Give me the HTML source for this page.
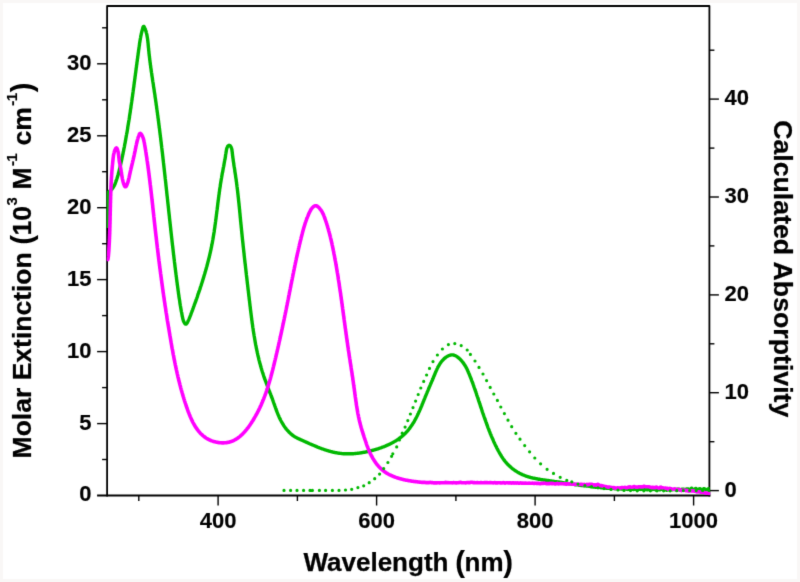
<!DOCTYPE html>
<html lang="en"><head><meta charset="utf-8"><title>Absorption spectra</title>
<style>html,body{margin:0;padding:0;background:#fff}body{width:800px;height:582px;overflow:hidden}svg{display:block}</style>
</head><body>
<svg width="800" height="582" viewBox="0 0 800 582" role="img" aria-label="Absorption spectra">
<defs><filter id="bl" x="0" y="0" width="100%" height="100%" color-interpolation-filters="sRGB"><feConvolveMatrix order="3" kernelMatrix="0.0121 0.0858 0.0121 0.0858 0.6084 0.0858 0.0121 0.0858 0.0121" divisor="1" edgeMode="duplicate" preserveAlpha="false"/></filter></defs>
<rect x="-5" y="-5" width="810" height="592" fill="#f9f7f6"/>
<g filter="url(#bl)">
<rect x="-5" y="-5" width="810" height="592" fill="#f9f7f6"/>
<rect x="3" y="3" width="794" height="576" fill="#ffffff"/>
<g stroke="#000" stroke-width="1.8" fill="none" stroke-linecap="butt" stroke-linejoin="round">
<path d="M107.1,496.40 V6.0 H709.4 V496.40"/>
<path d="M97.1,495.5 H710.30"/>
<path stroke-width="1.4" d="M102.1,459.5 H107.1"/>
<path stroke-width="1.4" d="M97.1,423.6 H107.1"/>
<path stroke-width="1.4" d="M102.1,387.6 H107.1"/>
<path stroke-width="1.4" d="M97.1,351.6 H107.1"/>
<path stroke-width="1.4" d="M102.1,315.6 H107.1"/>
<path stroke-width="1.4" d="M97.1,279.6 H107.1"/>
<path stroke-width="1.4" d="M102.1,243.7 H107.1"/>
<path stroke-width="1.4" d="M97.1,207.7 H107.1"/>
<path stroke-width="1.4" d="M102.1,171.7 H107.1"/>
<path stroke-width="1.4" d="M97.1,135.8 H107.1"/>
<path stroke-width="1.4" d="M102.1,99.8 H107.1"/>
<path stroke-width="1.4" d="M97.1,63.8 H107.1"/>
<path stroke-width="1.4" d="M102.1,27.8 H107.1"/>
<path stroke-width="1.4" d="M709.4,490.6 H718.9"/>
<path stroke-width="1.4" d="M709.4,441.7 H714.4"/>
<path stroke-width="1.4" d="M709.4,392.7 H718.9"/>
<path stroke-width="1.4" d="M709.4,343.8 H714.4"/>
<path stroke-width="1.4" d="M709.4,294.9 H718.9"/>
<path stroke-width="1.4" d="M709.4,245.9 H714.4"/>
<path stroke-width="1.4" d="M709.4,197.0 H718.9"/>
<path stroke-width="1.4" d="M709.4,148.1 H714.4"/>
<path stroke-width="1.4" d="M709.4,99.1 H718.9"/>
<path stroke-width="1.4" d="M709.4,50.2 H714.4"/>
<path stroke-width="1.4" d="M138.8,495.5 V501.0"/>
<path stroke-width="1.4" d="M218.1,495.5 V505.5"/>
<path stroke-width="1.4" d="M297.4,495.5 V501.0"/>
<path stroke-width="1.4" d="M376.6,495.5 V505.5"/>
<path stroke-width="1.4" d="M455.9,495.5 V501.0"/>
<path stroke-width="1.4" d="M535.1,495.5 V505.5"/>
<path stroke-width="1.4" d="M614.4,495.5 V501.0"/>
<path stroke-width="1.4" d="M693.6,495.5 V505.5"/>
</g>
<clipPath id="pc"><rect x="106.7" y="4" width="603.6" height="492.3"/></clipPath>
<g clip-path="url(#pc)">
<path d="M107.2,228.0 L107.3,210.0 L107.5,197.0 L107.8,194.0 L108.4,191.9 L108.9,191.6 L109.4,191.3 L109.9,191.0 L110.4,190.6 L110.9,190.2 L111.3,189.8 L111.7,189.4 L112.1,189.0 L112.5,188.5 L112.9,188.0 L113.2,187.5 L113.5,187.0 L113.8,186.5 L114.1,186.0 L114.4,185.4 L114.6,184.9 L114.9,184.3 L115.1,183.8 L115.3,183.2 L115.5,182.6 L115.7,182.1 L115.9,181.5 L116.1,181.0 L116.3,180.4 L116.5,179.8 L116.7,179.3 L116.9,178.7 L117.1,178.1 L117.3,177.5 L117.4,177.0 L117.6,176.4 L117.8,175.8 L118.0,175.2 L118.1,174.7 L118.3,174.1 L118.4,173.5 L118.6,172.9 L118.7,172.3 L118.9,171.8 L119.0,171.2 L119.2,170.6 L119.3,170.0 L119.5,169.4 L119.6,168.9 L119.8,168.3 L119.9,167.7 L120.0,167.1 L120.2,166.5 L120.3,165.9 L120.5,165.3 L120.6,164.8 L120.7,164.2 L120.8,163.6 L121.0,163.0 L121.1,162.4 L121.2,161.8 L121.4,161.2 L121.5,160.7 L121.6,160.1 L121.7,159.5 L121.9,158.9 L122.0,158.3 L122.1,157.7 L122.2,157.1 L122.4,156.6 L122.5,156.0 L122.6,155.4 L122.7,154.8 L122.9,154.2 L123.0,153.6 L123.1,153.0 L123.2,152.4 L123.3,151.9 L123.5,151.3 L123.6,150.7 L123.7,150.1 L123.8,149.5 L123.9,148.9 L124.0,148.3 L124.2,147.7 L124.3,147.1 L124.4,146.6 L124.5,146.0 L124.6,145.4 L124.7,144.8 L124.8,144.2 L124.9,143.6 L125.1,143.0 L125.2,142.4 L125.3,141.8 L125.4,141.2 L125.5,140.7 L125.6,140.1 L125.7,139.5 L125.8,138.9 L125.9,138.3 L126.0,137.7 L126.1,137.1 L126.2,136.5 L126.3,135.9 L126.4,135.3 L126.5,134.8 L126.6,134.2 L126.7,133.6 L126.9,133.0 L127.0,132.4 L127.1,131.8 L127.2,131.2 L127.3,130.6 L127.4,130.0 L127.5,129.4 L127.6,128.8 L127.7,128.2 L127.7,127.7 L127.8,127.1 L127.9,126.5 L128.0,125.9 L128.1,125.3 L128.2,124.7 L128.3,124.1 L128.4,123.5 L128.5,122.9 L128.6,122.3 L128.7,121.7 L128.8,121.1 L128.9,120.5 L129.0,120.0 L129.1,119.4 L129.2,118.8 L129.3,118.2 L129.4,117.6 L129.5,117.0 L129.5,116.4 L129.6,115.8 L129.7,115.2 L129.8,114.6 L129.9,114.0 L130.0,113.4 L130.1,112.8 L130.2,112.2 L130.3,111.6 L130.3,111.1 L130.4,110.5 L130.5,109.9 L130.6,109.3 L130.7,108.7 L130.8,108.1 L130.9,107.5 L131.0,106.9 L131.0,106.3 L131.1,105.7 L131.2,105.1 L131.3,104.5 L131.4,103.9 L131.5,103.3 L131.6,102.7 L131.6,102.1 L131.7,101.6 L131.8,101.0 L131.9,100.4 L132.0,99.8 L132.1,99.2 L132.1,98.6 L132.2,98.0 L132.3,97.4 L132.4,96.8 L132.5,96.2 L132.6,95.6 L132.6,95.0 L132.7,94.4 L132.8,93.8 L132.9,93.2 L133.0,92.6 L133.0,92.0 L133.1,91.5 L133.2,90.9 L133.3,90.3 L133.4,89.7 L133.4,89.1 L133.5,88.5 L133.6,87.9 L133.7,87.3 L133.8,86.7 L133.9,86.1 L133.9,85.5 L134.0,84.9 L134.1,84.3 L134.2,83.7 L134.2,83.1 L134.3,82.5 L134.4,81.9 L134.5,81.3 L134.6,80.7 L134.6,80.2 L134.7,79.6 L134.8,79.0 L134.9,78.4 L135.0,77.8 L135.0,77.2 L135.1,76.6 L135.2,76.0 L135.3,75.4 L135.4,74.8 L135.4,74.2 L135.5,73.6 L135.6,73.0 L135.7,72.4 L135.8,71.8 L135.8,71.2 L135.9,70.6 L136.0,70.0 L136.1,69.4 L136.1,68.9 L136.2,68.3 L136.3,67.7 L136.4,67.1 L136.5,66.5 L136.5,65.9 L136.6,65.3 L136.7,64.7 L136.8,64.1 L136.9,63.5 L136.9,62.9 L137.0,62.3 L137.1,61.7 L137.2,61.1 L137.3,60.5 L137.3,59.9 L137.4,59.3 L137.5,58.7 L137.6,58.1 L137.7,57.6 L137.7,57.0 L137.8,56.4 L137.9,55.8 L138.0,55.2 L138.1,54.6 L138.1,54.0 L138.2,53.4 L138.3,52.8 L138.4,52.2 L138.5,51.6 L138.5,51.0 L138.6,50.4 L138.7,49.8 L138.8,49.2 L138.9,48.6 L139.0,48.0 L139.0,47.4 L139.1,46.9 L139.2,46.3 L139.3,45.7 L139.4,45.1 L139.5,44.5 L139.5,43.9 L139.6,43.3 L139.7,42.7 L139.8,42.1 L139.9,41.5 L140.0,40.9 L140.1,40.3 L140.2,39.7 L140.3,39.1 L140.4,38.5 L140.5,38.0 L140.6,37.4 L140.7,36.8 L140.8,36.2 L140.9,35.6 L141.1,35.0 L141.2,34.4 L141.3,33.8 L141.4,33.3 L141.6,32.7 L141.7,32.1 L141.9,31.5 L142.0,30.9 L142.2,30.3 L142.3,29.8 L142.5,29.2 L142.6,28.6 L142.8,28.0 L143.0,27.5 L143.2,26.9 L143.5,26.4 L144.0,26.5 L144.3,27.0 L144.6,27.5 L144.8,28.1 L145.0,28.6 L145.2,29.2 L145.4,29.7 L145.6,30.3 L145.8,30.9 L146.0,31.5 L146.2,32.0 L146.3,32.6 L146.5,33.2 L146.6,33.8 L146.8,34.4 L146.9,34.9 L147.0,35.5 L147.1,36.1 L147.2,36.7 L147.3,37.3 L147.4,37.9 L147.5,38.5 L147.6,39.1 L147.7,39.7 L147.7,40.3 L147.8,40.9 L147.9,41.5 L147.9,42.1 L148.0,42.7 L148.1,43.3 L148.1,43.9 L148.2,44.5 L148.2,45.1 L148.3,45.7 L148.3,46.2 L148.4,46.8 L148.4,47.4 L148.5,48.0 L148.6,48.6 L148.6,49.2 L148.7,49.8 L148.7,50.4 L148.8,51.0 L148.9,51.6 L148.9,52.2 L149.0,52.8 L149.0,53.4 L149.1,54.0 L149.2,54.6 L149.2,55.2 L149.3,55.8 L149.4,56.4 L149.5,57.0 L149.5,57.6 L149.6,58.2 L149.7,58.8 L149.7,59.4 L149.8,60.0 L149.9,60.6 L150.0,61.2 L150.0,61.8 L150.1,62.3 L150.2,62.9 L150.3,63.5 L150.3,64.1 L150.4,64.7 L150.5,65.3 L150.6,65.9 L150.7,66.5 L150.7,67.1 L150.8,67.7 L150.9,68.3 L151.0,68.9 L151.1,69.5 L151.2,70.1 L151.2,70.7 L151.3,71.3 L151.4,71.9 L151.5,72.5 L151.6,73.0 L151.7,73.6 L151.8,74.2 L151.8,74.8 L151.9,75.4 L152.0,76.0 L152.1,76.6 L152.2,77.2 L152.3,77.8 L152.4,78.4 L152.5,79.0 L152.5,79.6 L152.6,80.2 L152.7,80.8 L152.8,81.4 L152.9,82.0 L153.0,82.5 L153.1,83.1 L153.2,83.7 L153.3,84.3 L153.4,84.9 L153.4,85.5 L153.5,86.1 L153.6,86.7 L153.7,87.3 L153.8,87.9 L153.9,88.5 L154.0,89.1 L154.1,89.7 L154.2,90.3 L154.2,90.8 L154.3,91.4 L154.4,92.0 L154.5,92.6 L154.6,93.2 L154.7,93.8 L154.8,94.4 L154.9,95.0 L155.0,95.6 L155.0,96.2 L155.1,96.8 L155.2,97.4 L155.3,98.0 L155.4,98.6 L155.5,99.2 L155.6,99.8 L155.6,100.3 L155.7,100.9 L155.8,101.5 L155.9,102.1 L156.0,102.7 L156.1,103.3 L156.1,103.9 L156.2,104.5 L156.3,105.1 L156.4,105.7 L156.5,106.3 L156.6,106.9 L156.6,107.5 L156.7,108.1 L156.8,108.7 L156.9,109.3 L157.0,109.9 L157.1,110.4 L157.1,111.0 L157.2,111.6 L157.3,112.2 L157.4,112.8 L157.5,113.4 L157.5,114.0 L157.6,114.6 L157.7,115.2 L157.8,115.8 L157.9,116.4 L157.9,117.0 L158.0,117.6 L158.1,118.2 L158.2,118.8 L158.3,119.4 L158.3,120.0 L158.4,120.6 L158.5,121.2 L158.6,121.7 L158.6,122.3 L158.7,122.9 L158.8,123.5 L158.9,124.1 L158.9,124.7 L159.0,125.3 L159.1,125.9 L159.2,126.5 L159.2,127.1 L159.3,127.7 L159.4,128.3 L159.5,128.9 L159.6,129.5 L159.6,130.1 L159.7,130.7 L159.8,131.3 L159.8,131.9 L159.9,132.5 L160.0,133.1 L160.1,133.7 L160.1,134.2 L160.2,134.8 L160.3,135.4 L160.4,136.0 L160.4,136.6 L160.5,137.2 L160.6,137.8 L160.7,138.4 L160.7,139.0 L160.8,139.6 L160.9,140.2 L160.9,140.8 L161.0,141.4 L161.1,142.0 L161.2,142.6 L161.2,143.2 L161.3,143.8 L161.4,144.4 L161.4,145.0 L161.5,145.6 L161.6,146.2 L161.7,146.8 L161.7,147.4 L161.8,148.0 L161.9,148.5 L161.9,149.1 L162.0,149.7 L162.1,150.3 L162.1,150.9 L162.2,151.5 L162.3,152.1 L162.4,152.7 L162.4,153.3 L162.5,153.9 L162.6,154.5 L162.6,155.1 L162.7,155.7 L162.8,156.3 L162.8,156.9 L162.9,157.5 L163.0,158.1 L163.0,158.7 L163.1,159.3 L163.2,159.9 L163.2,160.5 L163.3,161.1 L163.4,161.7 L163.4,162.3 L163.5,162.9 L163.6,163.4 L163.6,164.0 L163.7,164.6 L163.8,165.2 L163.8,165.8 L163.9,166.4 L164.0,167.0 L164.0,167.6 L164.1,168.2 L164.2,168.8 L164.2,169.4 L164.3,170.0 L164.4,170.6 L164.4,171.2 L164.5,171.8 L164.6,172.4 L164.6,173.0 L164.7,173.6 L164.8,174.2 L164.8,174.8 L164.9,175.4 L165.0,176.0 L165.0,176.6 L165.1,177.2 L165.2,177.8 L165.2,178.4 L165.3,179.0 L165.4,179.5 L165.4,180.1 L165.5,180.7 L165.6,181.3 L165.6,181.9 L165.7,182.5 L165.8,183.1 L165.8,183.7 L165.9,184.3 L165.9,184.9 L166.0,185.5 L166.1,186.1 L166.1,186.7 L166.2,187.3 L166.3,187.9 L166.3,188.5 L166.4,189.1 L166.5,189.7 L166.5,190.3 L166.6,190.9 L166.7,191.5 L166.7,192.1 L166.8,192.7 L166.8,193.3 L166.9,193.9 L167.0,194.5 L167.0,195.1 L167.1,195.7 L167.2,196.3 L167.2,196.8 L167.3,197.4 L167.4,198.0 L167.4,198.6 L167.5,199.2 L167.6,199.8 L167.6,200.4 L167.7,201.0 L167.7,201.6 L167.8,202.2 L167.9,202.8 L167.9,203.4 L168.0,204.0 L168.1,204.6 L168.1,205.2 L168.2,205.8 L168.3,206.4 L168.3,207.0 L168.4,207.6 L168.5,208.2 L168.5,208.8 L168.6,209.4 L168.6,210.0 L168.7,210.6 L168.8,211.2 L168.8,211.8 L168.9,212.4 L169.0,213.0 L169.0,213.6 L169.1,214.1 L169.2,214.7 L169.2,215.3 L169.3,215.9 L169.4,216.5 L169.4,217.1 L169.5,217.7 L169.5,218.3 L169.6,218.9 L169.7,219.5 L169.7,220.1 L169.8,220.7 L169.9,221.3 L169.9,221.9 L170.0,222.5 L170.1,223.1 L170.1,223.7 L170.2,224.3 L170.3,224.9 L170.3,225.5 L170.4,226.1 L170.5,226.7 L170.5,227.3 L170.6,227.9 L170.7,228.5 L170.7,229.1 L170.8,229.7 L170.8,230.3 L170.9,230.8 L171.0,231.4 L171.0,232.0 L171.1,232.6 L171.2,233.2 L171.2,233.8 L171.3,234.4 L171.4,235.0 L171.4,235.6 L171.5,236.2 L171.6,236.8 L171.6,237.4 L171.7,238.0 L171.8,238.6 L171.8,239.2 L171.9,239.8 L172.0,240.4 L172.0,241.0 L172.1,241.6 L172.2,242.2 L172.2,242.8 L172.3,243.4 L172.4,244.0 L172.4,244.6 L172.5,245.2 L172.6,245.8 L172.7,246.4 L172.7,246.9 L172.8,247.5 L172.9,248.1 L172.9,248.7 L173.0,249.3 L173.1,249.9 L173.1,250.5 L173.2,251.1 L173.3,251.7 L173.3,252.3 L173.4,252.9 L173.5,253.5 L173.5,254.1 L173.6,254.7 L173.7,255.3 L173.8,255.9 L173.8,256.5 L173.9,257.1 L174.0,257.7 L174.0,258.3 L174.1,258.9 L174.2,259.5 L174.3,260.1 L174.3,260.7 L174.4,261.3 L174.5,261.8 L174.5,262.4 L174.6,263.0 L174.7,263.6 L174.8,264.2 L174.8,264.8 L174.9,265.4 L175.0,266.0 L175.0,266.6 L175.1,267.2 L175.2,267.8 L175.3,268.4 L175.3,269.0 L175.4,269.6 L175.5,270.2 L175.6,270.8 L175.6,271.4 L175.7,272.0 L175.8,272.6 L175.9,273.2 L175.9,273.8 L176.0,274.4 L176.1,274.9 L176.2,275.5 L176.2,276.1 L176.3,276.7 L176.4,277.3 L176.5,277.9 L176.5,278.5 L176.6,279.1 L176.7,279.7 L176.8,280.3 L176.8,280.9 L176.9,281.5 L177.0,282.1 L177.1,282.7 L177.2,283.3 L177.2,283.9 L177.3,284.5 L177.4,285.1 L177.5,285.7 L177.6,286.3 L177.6,286.8 L177.7,287.4 L177.8,288.0 L177.9,288.6 L178.0,289.2 L178.0,289.8 L178.1,290.4 L178.2,291.0 L178.3,291.6 L178.4,292.2 L178.4,292.8 L178.5,293.4 L178.6,294.0 L178.7,294.6 L178.8,295.2 L178.9,295.8 L178.9,296.4 L179.0,296.9 L179.1,297.5 L179.2,298.1 L179.3,298.7 L179.4,299.3 L179.5,299.9 L179.6,300.5 L179.7,301.1 L179.8,301.7 L179.8,302.3 L179.9,302.9 L180.0,303.5 L180.1,304.1 L180.2,304.7 L180.3,305.3 L180.4,305.8 L180.5,306.4 L180.6,307.0 L180.7,307.6 L180.8,308.2 L180.9,308.8 L181.0,309.4 L181.1,310.0 L181.2,310.6 L181.3,311.2 L181.4,311.8 L181.6,312.3 L181.7,312.9 L181.8,313.5 L181.9,314.1 L182.0,314.7 L182.1,315.3 L182.2,315.9 L182.3,316.5 L182.5,317.1 L182.6,317.6 L182.7,318.2 L182.8,318.8 L183.0,319.4 L183.2,320.0 L183.3,320.5 L183.5,321.1 L183.8,321.7 L184.0,322.2 L184.3,322.7 L184.6,323.2 L185.0,323.7 L185.5,324.1 L186.1,324.1 L186.5,323.8 L186.9,323.3 L187.2,322.8 L187.5,322.3 L187.8,321.7 L188.0,321.2 L188.3,320.7 L188.5,320.1 L188.8,319.6 L189.0,319.0 L189.3,318.5 L189.5,317.9 L189.7,317.4 L189.9,316.8 L190.2,316.2 L190.4,315.7 L190.6,315.1 L190.8,314.6 L191.0,314.0 L191.2,313.4 L191.4,312.9 L191.6,312.3 L191.9,311.7 L192.1,311.2 L192.3,310.6 L192.5,310.1 L192.7,309.5 L192.9,308.9 L193.1,308.4 L193.3,307.8 L193.5,307.2 L193.7,306.7 L193.9,306.1 L194.1,305.6 L194.3,305.0 L194.5,304.4 L194.7,303.9 L195.0,303.3 L195.2,302.7 L195.4,302.2 L195.6,301.6 L195.8,301.0 L196.0,300.5 L196.2,299.9 L196.4,299.3 L196.6,298.8 L196.8,298.2 L197.0,297.6 L197.2,297.1 L197.4,296.5 L197.6,295.9 L197.7,295.4 L197.9,294.8 L198.1,294.2 L198.3,293.7 L198.5,293.1 L198.7,292.5 L198.9,292.0 L199.1,291.4 L199.3,290.8 L199.5,290.3 L199.7,289.7 L199.9,289.1 L200.1,288.6 L200.2,288.0 L200.4,287.4 L200.6,286.8 L200.8,286.3 L201.0,285.7 L201.2,285.1 L201.4,284.6 L201.5,284.0 L201.7,283.4 L201.9,282.9 L202.1,282.3 L202.3,281.7 L202.5,281.1 L202.6,280.6 L202.8,280.0 L203.0,279.4 L203.2,278.8 L203.3,278.3 L203.5,277.7 L203.7,277.1 L203.9,276.5 L204.0,276.0 L204.2,275.4 L204.4,274.8 L204.6,274.2 L204.7,273.7 L204.9,273.1 L205.1,272.5 L205.2,271.9 L205.4,271.4 L205.6,270.8 L205.7,270.2 L205.9,269.6 L206.1,269.1 L206.2,268.5 L206.4,267.9 L206.5,267.3 L206.7,266.8 L206.9,266.2 L207.0,265.6 L207.2,265.0 L207.3,264.4 L207.5,263.9 L207.6,263.3 L207.8,262.7 L207.9,262.1 L208.1,261.5 L208.2,261.0 L208.4,260.4 L208.5,259.8 L208.7,259.2 L208.8,258.6 L209.0,258.0 L209.1,257.5 L209.3,256.9 L209.4,256.3 L209.5,255.7 L209.7,255.1 L209.8,254.5 L209.9,254.0 L210.1,253.4 L210.2,252.8 L210.3,252.2 L210.5,251.6 L210.6,251.0 L210.7,250.4 L210.9,249.9 L211.0,249.3 L211.1,248.7 L211.2,248.1 L211.3,247.5 L211.5,246.9 L211.6,246.3 L211.7,245.7 L211.8,245.2 L211.9,244.6 L212.0,244.0 L212.2,243.4 L212.3,242.8 L212.4,242.2 L212.5,241.6 L212.6,241.0 L212.7,240.4 L212.8,239.8 L212.9,239.3 L213.0,238.7 L213.1,238.1 L213.2,237.5 L213.3,236.9 L213.4,236.3 L213.5,235.7 L213.6,235.1 L213.7,234.5 L213.8,233.9 L213.9,233.3 L214.0,232.7 L214.1,232.1 L214.2,231.6 L214.3,231.0 L214.3,230.4 L214.4,229.8 L214.5,229.2 L214.6,228.6 L214.7,228.0 L214.8,227.4 L214.9,226.8 L214.9,226.2 L215.0,225.6 L215.1,225.0 L215.2,224.4 L215.3,223.8 L215.4,223.2 L215.4,222.6 L215.5,222.0 L215.6,221.5 L215.7,220.9 L215.7,220.3 L215.8,219.7 L215.9,219.1 L216.0,218.5 L216.1,217.9 L216.1,217.3 L216.2,216.7 L216.3,216.1 L216.4,215.5 L216.4,214.9 L216.5,214.3 L216.6,213.7 L216.7,213.1 L216.7,212.5 L216.8,211.9 L216.9,211.3 L217.0,210.7 L217.0,210.1 L217.1,209.6 L217.2,209.0 L217.3,208.4 L217.3,207.8 L217.4,207.2 L217.5,206.6 L217.6,206.0 L217.6,205.4 L217.7,204.8 L217.8,204.2 L217.8,203.6 L217.9,203.0 L218.0,202.4 L218.1,201.8 L218.1,201.2 L218.2,200.6 L218.3,200.0 L218.4,199.4 L218.5,198.8 L218.5,198.2 L218.6,197.6 L218.7,197.0 L218.8,196.5 L218.8,195.9 L218.9,195.3 L219.0,194.7 L219.1,194.1 L219.2,193.5 L219.2,192.9 L219.3,192.3 L219.4,191.7 L219.5,191.1 L219.6,190.5 L219.6,189.9 L219.7,189.3 L219.8,188.7 L219.9,188.1 L220.0,187.5 L220.1,186.9 L220.2,186.4 L220.3,185.8 L220.3,185.2 L220.4,184.6 L220.5,184.0 L220.6,183.4 L220.7,182.8 L220.8,182.2 L220.9,181.6 L221.0,181.0 L221.1,180.4 L221.2,179.8 L221.3,179.2 L221.4,178.6 L221.5,178.1 L221.6,177.5 L221.7,176.9 L221.8,176.3 L221.9,175.7 L222.0,175.1 L222.1,174.5 L222.2,173.9 L222.3,173.3 L222.4,172.7 L222.6,172.2 L222.7,171.6 L222.8,171.0 L222.9,170.4 L223.0,169.8 L223.1,169.2 L223.2,168.6 L223.3,168.0 L223.4,167.4 L223.6,166.8 L223.7,166.3 L223.8,165.7 L223.9,165.1 L224.0,164.5 L224.1,163.9 L224.2,163.3 L224.3,162.7 L224.4,162.1 L224.5,161.5 L224.6,160.9 L224.7,160.4 L224.8,159.8 L225.0,159.2 L225.1,158.6 L225.2,158.0 L225.3,157.4 L225.4,156.8 L225.5,156.2 L225.5,155.6 L225.6,155.0 L225.7,154.4 L225.8,153.8 L225.9,153.3 L226.0,152.7 L226.1,152.1 L226.2,151.5 L226.3,150.9 L226.4,150.3 L226.5,149.7 L226.6,149.1 L226.8,148.5 L226.9,148.0 L227.2,147.4 L227.4,146.9 L227.7,146.3 L228.1,145.9 L228.6,145.5 L229.1,145.3 L229.7,145.5 L230.2,145.8 L230.6,146.3 L230.9,146.8 L231.2,147.3 L231.4,147.9 L231.6,148.4 L231.7,149.0 L231.9,149.6 L232.0,150.2 L232.0,150.8 L232.1,151.4 L232.2,152.0 L232.3,152.6 L232.3,153.2 L232.4,153.8 L232.5,154.4 L232.5,155.0 L232.6,155.6 L232.7,156.2 L232.8,156.8 L232.8,157.4 L232.9,157.9 L233.0,158.5 L233.1,159.1 L233.2,159.7 L233.2,160.3 L233.3,160.9 L233.4,161.5 L233.5,162.1 L233.6,162.7 L233.7,163.3 L233.8,163.9 L233.8,164.5 L233.9,165.1 L234.0,165.7 L234.1,166.3 L234.2,166.9 L234.3,167.4 L234.4,168.0 L234.5,168.6 L234.6,169.2 L234.7,169.8 L234.8,170.4 L234.8,171.0 L234.9,171.6 L235.0,172.2 L235.1,172.8 L235.2,173.4 L235.3,174.0 L235.4,174.6 L235.5,175.2 L235.6,175.8 L235.6,176.3 L235.7,176.9 L235.8,177.5 L235.9,178.1 L236.0,178.7 L236.1,179.3 L236.2,179.9 L236.2,180.5 L236.3,181.1 L236.4,181.7 L236.5,182.3 L236.6,182.9 L236.6,183.5 L236.7,184.1 L236.8,184.7 L236.9,185.3 L236.9,185.9 L237.0,186.5 L237.1,187.0 L237.2,187.6 L237.2,188.2 L237.3,188.8 L237.4,189.4 L237.5,190.0 L237.5,190.6 L237.6,191.2 L237.7,191.8 L237.7,192.4 L237.8,193.0 L237.9,193.6 L237.9,194.2 L238.0,194.8 L238.1,195.4 L238.1,196.0 L238.2,196.6 L238.3,197.2 L238.3,197.8 L238.4,198.4 L238.5,199.0 L238.5,199.6 L238.6,200.2 L238.6,200.8 L238.7,201.4 L238.8,202.0 L238.8,202.6 L238.9,203.1 L239.0,203.7 L239.0,204.3 L239.1,204.9 L239.1,205.5 L239.2,206.1 L239.3,206.7 L239.3,207.3 L239.4,207.9 L239.4,208.5 L239.5,209.1 L239.6,209.7 L239.6,210.3 L239.7,210.9 L239.7,211.5 L239.8,212.1 L239.8,212.7 L239.9,213.3 L240.0,213.9 L240.0,214.5 L240.1,215.1 L240.1,215.7 L240.2,216.3 L240.2,216.9 L240.3,217.5 L240.4,218.1 L240.4,218.7 L240.5,219.3 L240.5,219.9 L240.6,220.5 L240.6,221.1 L240.7,221.7 L240.8,222.3 L240.8,222.9 L240.9,223.4 L240.9,224.0 L241.0,224.6 L241.1,225.2 L241.1,225.8 L241.2,226.4 L241.2,227.0 L241.3,227.6 L241.4,228.2 L241.4,228.8 L241.5,229.4 L241.5,230.0 L241.6,230.6 L241.7,231.2 L241.7,231.8 L241.8,232.4 L241.8,233.0 L241.9,233.6 L242.0,234.2 L242.0,234.8 L242.1,235.4 L242.1,236.0 L242.2,236.6 L242.3,237.2 L242.3,237.8 L242.4,238.4 L242.4,239.0 L242.5,239.6 L242.6,240.2 L242.6,240.8 L242.7,241.4 L242.8,242.0 L242.8,242.6 L242.9,243.1 L243.0,243.7 L243.0,244.3 L243.1,244.9 L243.1,245.5 L243.2,246.1 L243.3,246.7 L243.3,247.3 L243.4,247.9 L243.5,248.5 L243.5,249.1 L243.6,249.7 L243.7,250.3 L243.7,250.9 L243.8,251.5 L243.9,252.1 L243.9,252.7 L244.0,253.3 L244.1,253.9 L244.1,254.5 L244.2,255.1 L244.2,255.7 L244.3,256.3 L244.4,256.9 L244.4,257.5 L244.5,258.1 L244.6,258.7 L244.6,259.3 L244.7,259.8 L244.8,260.4 L244.8,261.0 L244.9,261.6 L245.0,262.2 L245.0,262.8 L245.1,263.4 L245.2,264.0 L245.3,264.6 L245.3,265.2 L245.4,265.8 L245.5,266.4 L245.5,267.0 L245.6,267.6 L245.7,268.2 L245.7,268.8 L245.8,269.4 L245.9,270.0 L245.9,270.6 L246.0,271.2 L246.1,271.8 L246.1,272.4 L246.2,273.0 L246.3,273.6 L246.3,274.2 L246.4,274.8 L246.5,275.3 L246.5,275.9 L246.6,276.5 L246.7,277.1 L246.8,277.7 L246.8,278.3 L246.9,278.9 L247.0,279.5 L247.0,280.1 L247.1,280.7 L247.2,281.3 L247.2,281.9 L247.3,282.5 L247.4,283.1 L247.4,283.7 L247.5,284.3 L247.6,284.9 L247.7,285.5 L247.7,286.1 L247.8,286.7 L247.9,287.3 L247.9,287.9 L248.0,288.5 L248.1,289.1 L248.1,289.7 L248.2,290.2 L248.3,290.8 L248.4,291.4 L248.4,292.0 L248.5,292.6 L248.6,293.2 L248.6,293.8 L248.7,294.4 L248.8,295.0 L248.8,295.6 L248.9,296.2 L249.0,296.8 L249.1,297.4 L249.1,298.0 L249.2,298.6 L249.3,299.2 L249.3,299.8 L249.4,300.4 L249.5,301.0 L249.6,301.6 L249.6,302.2 L249.7,302.8 L249.8,303.4 L249.8,304.0 L249.9,304.5 L250.0,305.1 L250.0,305.7 L250.1,306.3 L250.2,306.9 L250.3,307.5 L250.3,308.1 L250.4,308.7 L250.5,309.3 L250.5,309.9 L250.6,310.5 L250.7,311.1 L250.8,311.7 L250.8,312.3 L250.9,312.9 L251.0,313.5 L251.1,314.1 L251.1,314.7 L251.2,315.3 L251.3,315.9 L251.4,316.5 L251.4,317.1 L251.5,317.6 L251.6,318.2 L251.7,318.8 L251.7,319.4 L251.8,320.0 L251.9,320.6 L252.0,321.2 L252.1,321.8 L252.1,322.4 L252.2,323.0 L252.3,323.6 L252.4,324.2 L252.5,324.8 L252.6,325.4 L252.6,326.0 L252.7,326.6 L252.8,327.2 L252.9,327.8 L253.0,328.3 L253.1,328.9 L253.2,329.5 L253.2,330.1 L253.3,330.7 L253.4,331.3 L253.5,331.9 L253.6,332.5 L253.7,333.1 L253.8,333.7 L253.9,334.3 L254.0,334.9 L254.1,335.5 L254.2,336.1 L254.3,336.6 L254.4,337.2 L254.5,337.8 L254.6,338.4 L254.7,339.0 L254.8,339.6 L254.9,340.2 L255.0,340.8 L255.1,341.4 L255.2,342.0 L255.3,342.6 L255.4,343.2 L255.5,343.7 L255.6,344.3 L255.7,344.9 L255.9,345.5 L256.0,346.1 L256.1,346.7 L256.2,347.3 L256.3,347.9 L256.4,348.5 L256.6,349.0 L256.7,349.6 L256.8,350.2 L256.9,350.8 L257.1,351.4 L257.2,352.0 L257.3,352.6 L257.4,353.1 L257.6,353.7 L257.7,354.3 L257.8,354.9 L258.0,355.5 L258.1,356.1 L258.2,356.7 L258.4,357.2 L258.5,357.8 L258.7,358.4 L258.8,359.0 L258.9,359.6 L259.1,360.2 L259.2,360.7 L259.4,361.3 L259.5,361.9 L259.7,362.5 L259.8,363.1 L260.0,363.6 L260.2,364.2 L260.3,364.8 L260.5,365.4 L260.6,366.0 L260.8,366.5 L261.0,367.1 L261.1,367.7 L261.3,368.3 L261.5,368.8 L261.6,369.4 L261.8,370.0 L262.0,370.6 L262.2,371.1 L262.3,371.7 L262.5,372.3 L262.7,372.8 L262.9,373.4 L263.1,374.0 L263.3,374.6 L263.5,375.1 L263.6,375.7 L263.8,376.3 L264.0,376.8 L264.2,377.4 L264.4,378.0 L264.6,378.5 L264.8,379.1 L265.0,379.7 L265.2,380.2 L265.4,380.8 L265.7,381.4 L265.9,381.9 L266.1,382.5 L266.3,383.0 L266.5,383.6 L266.7,384.2 L266.9,384.7 L267.1,385.3 L267.3,385.8 L267.6,386.4 L267.8,387.0 L268.0,387.5 L268.2,388.1 L268.4,388.6 L268.6,389.2 L268.8,389.8 L269.1,390.3 L269.3,390.9 L269.5,391.4 L269.7,392.0 L269.9,392.6 L270.1,393.1 L270.4,393.7 L270.6,394.2 L270.8,394.8 L271.0,395.4 L271.2,395.9 L271.4,396.5 L271.6,397.0 L271.8,397.6 L272.1,398.2 L272.3,398.7 L272.5,399.3 L272.7,399.9 L272.9,400.4 L273.1,401.0 L273.3,401.6 L273.5,402.1 L273.7,402.7 L273.9,403.3 L274.1,403.8 L274.3,404.4 L274.5,405.0 L274.7,405.5 L274.9,406.1 L275.1,406.6 L275.3,407.2 L275.5,407.8 L275.7,408.3 L275.9,408.9 L276.1,409.5 L276.3,410.0 L276.5,410.6 L276.7,411.2 L276.9,411.7 L277.2,412.3 L277.4,412.8 L277.6,413.4 L277.8,413.9 L278.1,414.5 L278.3,415.1 L278.5,415.6 L278.8,416.2 L279.0,416.7 L279.2,417.3 L279.5,417.8 L279.7,418.3 L280.0,418.9 L280.3,419.4 L280.5,420.0 L280.8,420.5 L281.1,421.0 L281.4,421.6 L281.7,422.1 L282.0,422.6 L282.3,423.1 L282.6,423.6 L282.9,424.2 L283.2,424.7 L283.5,425.2 L283.8,425.7 L284.2,426.2 L284.5,426.7 L284.9,427.2 L285.2,427.6 L285.6,428.1 L285.9,428.6 L286.3,429.1 L286.7,429.5 L287.1,430.0 L287.5,430.5 L287.9,430.9 L288.3,431.3 L288.7,431.8 L289.1,432.2 L289.5,432.6 L290.0,433.0 L290.4,433.4 L290.8,433.8 L291.3,434.2 L291.8,434.6 L292.2,435.0 L292.7,435.3 L293.2,435.7 L293.7,436.0 L294.2,436.4 L294.7,436.7 L295.2,437.0 L295.8,437.3 L296.3,437.6 L296.8,437.9 L297.3,438.1 L297.9,438.4 L298.4,438.7 L299.0,438.9 L299.5,439.2 L300.1,439.4 L300.6,439.7 L301.1,439.9 L301.7,440.1 L302.2,440.4 L302.8,440.6 L303.3,440.9 L303.9,441.1 L304.4,441.4 L305.0,441.6 L305.5,441.9 L306.1,442.1 L306.6,442.3 L307.2,442.6 L307.7,442.8 L308.3,443.1 L308.8,443.3 L309.4,443.6 L309.9,443.8 L310.5,444.0 L311.0,444.3 L311.6,444.5 L312.1,444.8 L312.7,445.0 L313.2,445.2 L313.8,445.5 L314.3,445.7 L314.9,445.9 L315.4,446.2 L316.0,446.4 L316.5,446.6 L317.1,446.9 L317.6,447.1 L318.2,447.3 L318.8,447.5 L319.3,447.8 L319.9,448.0 L320.4,448.2 L321.0,448.4 L321.6,448.6 L322.1,448.8 L322.7,449.0 L323.3,449.2 L323.8,449.4 L324.4,449.6 L325.0,449.8 L325.5,450.0 L326.1,450.2 L326.7,450.4 L327.2,450.5 L327.8,450.7 L328.4,450.9 L329.0,451.1 L329.5,451.2 L330.1,451.4 L330.7,451.5 L331.3,451.7 L331.9,451.8 L332.4,452.0 L333.0,452.1 L333.6,452.2 L334.2,452.4 L334.8,452.5 L335.4,452.6 L336.0,452.7 L336.6,452.8 L337.1,452.9 L337.7,453.0 L338.3,453.1 L338.9,453.2 L339.5,453.3 L340.1,453.4 L340.7,453.4 L341.3,453.5 L341.9,453.6 L342.5,453.6 L343.1,453.7 L343.7,453.7 L344.3,453.7 L344.9,453.8 L345.5,453.8 L346.1,453.8 L346.7,453.8 L347.3,453.8 L347.9,453.8 L348.5,453.8 L349.1,453.8 L349.7,453.8 L350.3,453.8 L350.9,453.8 L351.5,453.8 L352.1,453.7 L352.7,453.7 L353.3,453.7 L353.9,453.6 L354.5,453.6 L355.1,453.5 L355.7,453.5 L356.3,453.4 L356.9,453.4 L357.5,453.3 L358.1,453.2 L358.7,453.1 L359.3,453.1 L359.9,453.0 L360.5,452.9 L361.0,452.8 L361.6,452.7 L362.2,452.6 L362.8,452.5 L363.4,452.4 L364.0,452.3 L364.6,452.2 L365.2,452.1 L365.8,452.0 L366.4,451.8 L366.9,451.7 L367.5,451.6 L368.1,451.4 L368.7,451.3 L369.3,451.2 L369.9,451.0 L370.5,450.9 L371.0,450.7 L371.6,450.6 L372.2,450.4 L372.8,450.3 L373.4,450.1 L373.9,450.0 L374.5,449.8 L375.1,449.6 L375.7,449.5 L376.2,449.3 L376.8,449.1 L377.4,449.0 L378.0,448.8 L378.5,448.6 L379.1,448.4 L379.7,448.2 L380.2,448.0 L380.8,447.8 L381.4,447.6 L381.9,447.4 L382.5,447.2 L383.1,447.0 L383.6,446.8 L384.2,446.6 L384.7,446.3 L385.3,446.1 L385.8,445.9 L386.4,445.6 L386.9,445.4 L387.5,445.2 L388.0,444.9 L388.6,444.7 L389.1,444.4 L389.7,444.2 L390.2,443.9 L390.7,443.6 L391.3,443.4 L391.8,443.1 L392.3,442.8 L392.9,442.5 L393.4,442.2 L393.9,441.9 L394.4,441.6 L394.9,441.3 L395.5,441.0 L396.0,440.7 L396.5,440.4 L397.0,440.0 L397.5,439.7 L398.0,439.4 L398.5,439.0 L399.0,438.7 L399.4,438.3 L399.9,438.0 L400.4,437.6 L400.9,437.2 L401.4,436.9 L401.8,436.5 L402.3,436.1 L402.7,435.7 L403.2,435.3 L403.6,434.9 L404.1,434.5 L404.5,434.1 L404.9,433.7 L405.4,433.3 L405.8,432.8 L406.2,432.4 L406.6,432.0 L407.0,431.5 L407.4,431.1 L407.8,430.6 L408.2,430.2 L408.6,429.7 L408.9,429.2 L409.3,428.7 L409.7,428.3 L410.0,427.8 L410.4,427.3 L410.7,426.8 L411.1,426.3 L411.4,425.8 L411.8,425.3 L412.1,424.8 L412.4,424.3 L412.7,423.8 L413.1,423.3 L413.4,422.8 L413.7,422.3 L414.0,421.8 L414.3,421.3 L414.6,420.7 L414.9,420.2 L415.2,419.7 L415.5,419.2 L415.7,418.6 L416.0,418.1 L416.3,417.6 L416.6,417.0 L416.8,416.5 L417.1,416.0 L417.4,415.4 L417.6,414.9 L417.9,414.3 L418.1,413.8 L418.4,413.3 L418.6,412.7 L418.9,412.2 L419.1,411.6 L419.4,411.1 L419.6,410.5 L419.9,410.0 L420.1,409.4 L420.4,408.9 L420.6,408.3 L420.8,407.8 L421.1,407.2 L421.3,406.7 L421.5,406.1 L421.8,405.6 L422.0,405.0 L422.2,404.4 L422.4,403.9 L422.7,403.3 L422.9,402.8 L423.1,402.2 L423.3,401.7 L423.6,401.1 L423.8,400.6 L424.0,400.0 L424.2,399.4 L424.5,398.9 L424.7,398.3 L424.9,397.8 L425.1,397.2 L425.4,396.7 L425.6,396.1 L425.8,395.5 L426.1,395.0 L426.3,394.4 L426.5,393.9 L426.7,393.3 L427.0,392.8 L427.2,392.2 L427.4,391.7 L427.7,391.1 L427.9,390.6 L428.1,390.0 L428.4,389.5 L428.6,388.9 L428.8,388.4 L429.1,387.8 L429.3,387.2 L429.5,386.7 L429.8,386.1 L430.0,385.6 L430.2,385.0 L430.5,384.5 L430.7,383.9 L430.9,383.4 L431.2,382.8 L431.4,382.3 L431.6,381.7 L431.9,381.2 L432.1,380.6 L432.4,380.1 L432.6,379.5 L432.8,379.0 L433.0,378.4 L433.3,377.9 L433.5,377.3 L433.7,376.7 L434.0,376.2 L434.2,375.6 L434.4,375.1 L434.7,374.5 L434.9,374.0 L435.1,373.4 L435.3,372.9 L435.6,372.3 L435.8,371.8 L436.1,371.2 L436.3,370.7 L436.5,370.1 L436.8,369.6 L437.0,369.0 L437.3,368.5 L437.6,367.9 L437.8,367.4 L438.1,366.9 L438.4,366.3 L438.7,365.8 L439.0,365.3 L439.3,364.8 L439.6,364.3 L439.9,363.8 L440.3,363.3 L440.6,362.8 L441.0,362.3 L441.3,361.8 L441.7,361.3 L442.1,360.9 L442.5,360.4 L442.9,360.0 L443.3,359.6 L443.7,359.1 L444.2,358.7 L444.6,358.3 L445.1,358.0 L445.5,357.6 L446.0,357.2 L446.5,356.9 L447.0,356.6 L447.5,356.3 L448.1,356.0 L448.6,355.7 L449.2,355.5 L449.7,355.3 L450.3,355.1 L450.9,355.0 L451.5,354.9 L452.1,354.9 L452.7,354.9 L453.3,355.0 L453.9,355.1 L454.4,355.3 L455.0,355.5 L455.5,355.8 L456.1,356.1 L456.6,356.4 L457.1,356.7 L457.6,357.1 L458.0,357.4 L458.5,357.8 L459.0,358.2 L459.4,358.6 L459.9,359.0 L460.3,359.4 L460.7,359.9 L461.1,360.3 L461.5,360.7 L461.9,361.2 L462.3,361.7 L462.7,362.1 L463.0,362.6 L463.4,363.1 L463.7,363.6 L464.1,364.1 L464.4,364.6 L464.7,365.1 L465.1,365.6 L465.4,366.1 L465.7,366.6 L466.0,367.1 L466.2,367.7 L466.5,368.2 L466.8,368.7 L467.1,369.3 L467.3,369.8 L467.6,370.4 L467.8,370.9 L468.1,371.5 L468.3,372.0 L468.5,372.6 L468.8,373.1 L469.0,373.7 L469.2,374.2 L469.5,374.8 L469.7,375.3 L469.9,375.9 L470.1,376.4 L470.3,377.0 L470.6,377.6 L470.8,378.1 L471.0,378.7 L471.2,379.2 L471.4,379.8 L471.6,380.4 L471.8,380.9 L472.1,381.5 L472.3,382.0 L472.5,382.6 L472.7,383.2 L472.9,383.7 L473.1,384.3 L473.3,384.9 L473.5,385.4 L473.7,386.0 L473.9,386.6 L474.1,387.1 L474.3,387.7 L474.5,388.3 L474.7,388.8 L474.9,389.4 L475.1,390.0 L475.3,390.5 L475.5,391.1 L475.7,391.7 L475.9,392.2 L476.1,392.8 L476.3,393.4 L476.5,393.9 L476.6,394.5 L476.8,395.1 L477.0,395.6 L477.2,396.2 L477.4,396.8 L477.6,397.3 L477.8,397.9 L478.0,398.5 L478.2,399.0 L478.4,399.6 L478.5,400.2 L478.7,400.8 L478.9,401.3 L479.1,401.9 L479.3,402.5 L479.5,403.0 L479.7,403.6 L479.9,404.2 L480.1,404.7 L480.2,405.3 L480.4,405.9 L480.6,406.5 L480.8,407.0 L481.0,407.6 L481.2,408.2 L481.4,408.7 L481.6,409.3 L481.8,409.9 L482.0,410.4 L482.1,411.0 L482.3,411.6 L482.5,412.1 L482.7,412.7 L482.9,413.3 L483.1,413.8 L483.3,414.4 L483.5,415.0 L483.7,415.6 L483.9,416.1 L484.1,416.7 L484.3,417.3 L484.5,417.8 L484.7,418.4 L484.9,419.0 L485.1,419.5 L485.3,420.1 L485.5,420.7 L485.7,421.2 L485.9,421.8 L486.1,422.3 L486.3,422.9 L486.5,423.5 L486.7,424.0 L486.9,424.6 L487.1,425.2 L487.3,425.7 L487.5,426.3 L487.7,426.9 L487.9,427.4 L488.1,428.0 L488.4,428.5 L488.6,429.1 L488.8,429.7 L489.0,430.2 L489.2,430.8 L489.4,431.3 L489.7,431.9 L489.9,432.4 L490.1,433.0 L490.3,433.6 L490.6,434.1 L490.8,434.7 L491.0,435.2 L491.2,435.8 L491.5,436.3 L491.7,436.9 L492.0,437.4 L492.2,438.0 L492.4,438.5 L492.7,439.1 L492.9,439.6 L493.2,440.2 L493.4,440.7 L493.6,441.3 L493.9,441.8 L494.1,442.4 L494.4,442.9 L494.6,443.5 L494.9,444.0 L495.2,444.5 L495.4,445.1 L495.7,445.6 L495.9,446.2 L496.2,446.7 L496.5,447.2 L496.7,447.8 L497.0,448.3 L497.3,448.8 L497.6,449.4 L497.8,449.9 L498.1,450.4 L498.4,451.0 L498.7,451.5 L499.0,452.0 L499.3,452.6 L499.6,453.1 L499.9,453.6 L500.2,454.1 L500.5,454.6 L500.8,455.1 L501.1,455.7 L501.4,456.2 L501.7,456.7 L502.1,457.2 L502.4,457.7 L502.7,458.2 L503.1,458.7 L503.4,459.1 L503.8,459.6 L504.1,460.1 L504.5,460.6 L504.9,461.1 L505.2,461.5 L505.6,462.0 L506.0,462.5 L506.4,462.9 L506.8,463.4 L507.2,463.8 L507.6,464.2 L508.0,464.7 L508.5,465.1 L508.9,465.5 L509.3,465.9 L509.8,466.3 L510.2,466.7 L510.7,467.1 L511.1,467.5 L511.6,467.9 L512.0,468.3 L512.5,468.7 L513.0,469.0 L513.5,469.4 L513.9,469.7 L514.4,470.1 L514.9,470.4 L515.4,470.8 L515.9,471.1 L516.4,471.4 L516.9,471.7 L517.5,472.1 L518.0,472.4 L518.5,472.7 L519.0,472.9 L519.5,473.2 L520.1,473.5 L520.6,473.8 L521.2,474.0 L521.7,474.3 L522.2,474.6 L522.8,474.8 L523.3,475.0 L523.9,475.2 L524.5,475.5 L525.0,475.7 L525.6,475.9 L526.1,476.1 L526.7,476.3 L527.3,476.5 L527.8,476.6 L528.4,476.9 L529.0,477.0 L529.6,477.2 L530.1,477.4 L530.7,477.5 L531.3,477.7 L531.9,477.8 L532.5,478.0 L533.1,478.1 L533.6,478.2 L534.2,478.3 L534.8,478.4 L535.4,478.5 L536.0,478.6 L536.6,478.7 L537.2,478.9 L537.8,479.0 L538.4,479.1 L539.0,479.3 L539.5,479.3 L540.1,479.4 L540.7,479.5 L541.3,479.6 L541.9,479.7 L542.5,479.8 L543.1,479.9 L543.7,480.0 L544.3,480.0 L544.9,480.1 L545.5,480.3 L546.1,480.3 L546.7,480.4 L547.3,480.5 L547.9,480.5 L548.5,480.5 L549.0,480.7 L549.6,480.8 L550.2,480.9 L550.8,480.9 L551.4,481.0 L552.0,481.1 L552.6,481.2 L553.2,481.3 L553.8,481.4 L554.4,481.5 L555.0,481.6 L555.6,481.6 L556.2,481.7 L556.8,481.8 L557.4,481.9 L558.0,482.0 L558.5,482.0 L559.1,482.0 L559.7,482.1 L560.3,482.2 L560.9,482.3 L561.5,482.5 L562.1,482.5 L562.7,482.6 L563.3,482.8 L563.9,482.9 L564.5,482.9 L565.1,482.9 L565.7,483.0 L566.3,483.2 L566.9,483.4 L567.4,483.4 L568.0,483.4 L568.6,483.6 L569.2,483.8 L569.8,483.8 L570.4,483.8 L571.0,484.0 L571.6,484.1 L572.2,484.1 L572.8,484.2 L573.4,484.2 L574.0,484.2 L574.6,484.4 L575.2,484.7 L575.8,484.7 L576.4,484.7 L576.9,484.7 L577.5,484.7 L578.1,484.8 L578.7,485.1 L579.3,485.4 L579.9,485.4 L580.5,485.4 L581.1,485.5 L581.7,485.6 L582.3,485.5 L582.9,485.6 L583.5,485.7 L584.1,485.8 L584.7,486.0 L585.3,485.8 L585.9,485.9 L586.5,486.1 L587.1,486.1 L587.7,486.0 L588.2,486.0 L588.8,486.2 L589.4,486.3 L590.0,486.5 L590.6,486.7 L591.2,486.7 L591.8,486.7 L592.4,486.7 L593.0,487.0 L593.6,487.1 L594.2,486.9 L594.8,487.0 L595.4,487.3 L596.0,487.3 L596.6,487.0 L597.2,487.0 L597.8,487.2 L598.4,487.4 L599.0,487.4 L599.6,487.4 L600.2,487.5 L600.8,487.7 L601.4,487.8 L602.0,487.6 L602.6,487.6 L603.2,487.7 L603.8,487.7 L604.4,487.7 L605.0,488.0 L605.6,488.1 L606.2,488.2 L606.8,488.3 L607.4,488.2 L608.0,488.2 L608.6,488.2 L609.2,488.2 L609.8,488.3 L610.4,488.2 L611.0,488.2 L611.6,488.5 L612.2,488.5 L612.7,488.1 L613.3,488.1 L613.9,488.4 L614.5,488.7 L615.1,488.9 L615.7,488.8 L616.3,488.7 L616.9,488.6 L617.5,488.5 L618.1,488.7 L618.7,488.9 L619.3,488.8 L619.9,488.8 L620.5,488.9 L621.1,489.0 L621.7,489.1 L622.3,489.0 L622.9,489.0 L623.5,488.8 L624.1,488.7 L624.7,488.9 L625.3,488.9 L625.9,489.0 L626.5,489.1 L627.1,489.3 L627.7,489.5 L628.3,489.4 L628.9,489.2 L629.5,489.3 L630.1,489.3 L630.7,489.2 L631.3,489.0 L631.9,489.0 L632.5,489.3 L633.1,489.5 L633.7,489.5 L634.3,489.4 L634.9,489.4 L635.5,489.3 L636.1,489.5 L636.7,489.7 L637.3,489.8 L637.9,489.7 L638.5,489.5 L639.1,489.3 L639.7,489.3 L640.3,489.5 L640.9,489.3 L641.5,489.1 L642.1,489.3 L642.7,489.3 L643.3,489.0 L643.9,489.1 L644.5,489.6 L645.1,489.6 L645.7,489.4 L646.3,489.3 L646.9,489.8 L647.5,489.9 L648.1,489.7 L648.7,489.4 L649.3,489.6 L649.9,489.8 L650.5,489.6 L651.1,489.4 L651.7,489.5 L652.3,489.6 L652.9,489.5 L653.5,489.3 L654.1,489.1 L654.7,489.2 L655.3,489.7 L655.9,490.1 L656.5,490.0 L657.1,489.9 L657.7,489.6 L658.3,489.5 L658.9,489.6 L659.5,489.7 L660.1,489.7 L660.7,489.4 L661.3,489.2 L661.9,489.3 L662.5,489.4 L663.1,489.4 L663.7,489.3 L664.3,489.7 L664.9,489.9 L665.5,489.8 L666.1,490.1 L666.7,490.2 L667.3,489.9 L667.9,489.7 L668.5,489.7 L669.1,489.6 L669.7,489.4 L670.3,489.4 L670.9,489.5 L671.5,489.6 L672.1,489.7 L672.7,489.7 L673.3,489.5 L673.9,489.5 L674.5,489.5 L675.1,489.6 L675.7,489.7 L676.3,489.6 L676.9,489.3 L677.5,489.1 L678.1,489.2 L678.7,489.1 L679.3,489.4 L679.9,490.0 L680.5,490.0 L681.1,489.5 L681.7,489.2 L682.3,489.3 L682.9,489.3 L683.5,489.2 L684.1,489.2 L684.7,489.8 L685.3,490.0 L685.9,489.3 L686.5,488.9 L687.1,488.9 L687.7,488.9 L688.3,489.0 L688.9,489.5 L689.5,489.7 L690.1,489.5 L690.7,489.0 L691.3,488.3 L691.9,488.3 L692.5,489.0 L693.1,489.8 L693.7,489.9 L694.3,489.5 L694.9,489.1 L695.5,488.5 L696.1,488.5 L696.7,489.2 L697.3,490.2 L697.9,490.5 L698.5,489.8 L699.1,489.0 L699.7,488.6 L700.3,488.8 L700.9,489.7 L701.5,490.2 L702.1,490.2 L702.7,489.6 L703.3,488.9 L703.9,488.6 L704.5,488.6 L705.1,489.2 L705.7,489.8 L706.3,489.8 L706.9,489.5 L707.5,489.2 L708.1,488.8 L708.7,488.8 L709.3,489.1" fill="none" stroke="#00b800" stroke-width="3.4" stroke-linejoin="round" stroke-linecap="butt"/>
<path d="M107.8,259.6 L108.3,257.0 L108.9,250.1 L108.9,249.5 L108.9,248.9 L109.0,248.3 L109.0,247.7 L109.0,247.1 L109.1,246.5 L109.1,245.9 L109.1,245.3 L109.2,244.7 L109.2,244.1 L109.2,243.5 L109.3,242.9 L109.3,242.3 L109.3,241.7 L109.4,241.1 L109.4,240.5 L109.4,239.9 L109.4,239.3 L109.5,238.7 L109.5,238.1 L109.5,237.5 L109.5,236.9 L109.6,236.3 L109.6,235.7 L109.6,235.1 L109.6,234.5 L109.7,233.9 L109.7,233.3 L109.7,232.7 L109.7,232.1 L109.7,231.5 L109.8,230.9 L109.8,230.3 L109.8,229.7 L109.8,229.1 L109.8,228.5 L109.8,227.9 L109.9,227.3 L109.9,226.7 L109.9,226.1 L109.9,225.5 L109.9,224.9 L109.9,224.3 L110.0,223.7 L110.0,223.1 L110.0,222.5 L110.0,221.9 L110.0,221.3 L110.0,220.7 L110.1,220.1 L110.1,219.5 L110.1,218.9 L110.1,218.3 L110.1,217.7 L110.1,217.1 L110.1,216.5 L110.1,215.9 L110.2,215.3 L110.2,214.7 L110.2,214.1 L110.2,213.5 L110.2,212.9 L110.2,212.3 L110.2,211.7 L110.3,211.1 L110.3,210.5 L110.3,209.9 L110.3,209.3 L110.3,208.7 L110.3,208.1 L110.3,207.5 L110.4,206.9 L110.4,206.3 L110.4,205.7 L110.4,205.1 L110.4,204.5 L110.4,203.9 L110.4,203.3 L110.5,202.7 L110.5,202.1 L110.5,201.5 L110.5,200.9 L110.5,200.3 L110.5,199.7 L110.6,199.1 L110.6,198.5 L110.6,197.9 L110.6,197.3 L110.6,196.7 L110.6,196.1 L110.7,195.5 L110.7,194.9 L110.7,194.3 L110.7,193.7 L110.7,193.1 L110.8,192.5 L110.8,191.9 L110.8,191.3 L110.8,190.7 L110.9,190.1 L110.9,189.5 L110.9,188.9 L110.9,188.3 L111.0,187.7 L111.0,187.1 L111.0,186.5 L111.0,185.9 L111.1,185.3 L111.1,184.7 L111.1,184.1 L111.1,183.5 L111.2,182.9 L111.2,182.3 L111.2,181.7 L111.3,181.1 L111.3,180.5 L111.3,179.9 L111.4,179.3 L111.4,178.7 L111.4,178.1 L111.5,177.5 L111.5,176.9 L111.6,176.3 L111.6,175.7 L111.6,175.1 L111.7,174.5 L111.7,173.9 L111.8,173.3 L111.8,172.7 L111.8,172.1 L111.9,171.5 L111.9,170.9 L112.0,170.3 L112.0,169.7 L112.1,169.1 L112.1,168.5 L112.2,167.9 L112.2,167.3 L112.3,166.7 L112.3,166.1 L112.4,165.5 L112.4,164.9 L112.5,164.4 L112.6,163.8 L112.6,163.2 L112.7,162.6 L112.7,162.0 L112.8,161.4 L112.9,160.8 L112.9,160.2 L113.0,159.6 L113.1,159.0 L113.1,158.4 L113.2,157.8 L113.3,157.2 L113.4,156.6 L113.4,156.0 L113.5,155.4 L113.6,154.8 L113.7,154.2 L113.9,153.6 L114.0,153.1 L114.1,152.5 L114.3,151.9 L114.5,151.3 L114.6,150.7 L114.9,150.2 L115.1,149.6 L115.4,149.1 L115.6,148.6 L116.0,148.1 L116.5,147.9 L116.9,148.3 L117.2,148.9 L117.4,149.4 L117.6,150.0 L117.8,150.6 L118.0,151.1 L118.1,151.7 L118.2,152.3 L118.3,152.9 L118.4,153.5 L118.5,154.1 L118.6,154.7 L118.6,155.3 L118.7,155.9 L118.8,156.5 L118.8,157.1 L118.9,157.7 L119.0,158.3 L119.0,158.9 L119.1,159.5 L119.2,160.0 L119.2,160.6 L119.3,161.2 L119.4,161.8 L119.5,162.4 L119.6,163.0 L119.8,163.6 L119.9,164.2 L120.0,164.8 L120.1,165.4 L120.2,165.9 L120.4,166.5 L120.5,167.1 L120.6,167.7 L120.7,168.3 L120.8,168.9 L120.9,169.5 L121.0,170.1 L121.1,170.7 L121.2,171.3 L121.3,171.9 L121.4,172.4 L121.5,173.0 L121.5,173.6 L121.6,174.2 L121.7,174.8 L121.8,175.4 L121.9,176.0 L122.0,176.6 L122.1,177.2 L122.2,177.8 L122.3,178.4 L122.4,179.0 L122.5,179.5 L122.7,180.1 L122.8,180.7 L123.0,181.3 L123.1,181.9 L123.3,182.5 L123.4,183.0 L123.6,183.6 L123.8,184.2 L124.0,184.7 L124.2,185.3 L124.5,185.8 L124.8,186.4 L125.2,186.8 L125.8,186.7 L126.2,186.3 L126.5,185.8 L126.8,185.2 L127.0,184.7 L127.2,184.1 L127.4,183.5 L127.6,183.0 L127.8,182.4 L128.0,181.8 L128.1,181.3 L128.3,180.7 L128.4,180.1 L128.6,179.5 L128.7,178.9 L128.9,178.3 L129.0,177.8 L129.1,177.2 L129.3,176.6 L129.4,176.0 L129.5,175.4 L129.6,174.8 L129.8,174.2 L129.9,173.7 L130.0,173.1 L130.1,172.5 L130.3,171.9 L130.4,171.3 L130.5,170.7 L130.7,170.1 L130.8,169.6 L130.9,169.0 L131.1,168.4 L131.2,167.8 L131.4,167.2 L131.5,166.6 L131.6,166.1 L131.8,165.5 L131.9,164.9 L132.1,164.3 L132.2,163.7 L132.3,163.1 L132.5,162.6 L132.6,162.0 L132.7,161.4 L132.9,160.8 L133.0,160.2 L133.2,159.6 L133.3,159.0 L133.4,158.5 L133.6,157.9 L133.7,157.3 L133.8,156.7 L134.0,156.1 L134.1,155.5 L134.2,155.0 L134.3,154.4 L134.5,153.8 L134.6,153.2 L134.7,152.6 L134.8,152.0 L135.0,151.4 L135.1,150.8 L135.2,150.3 L135.3,149.7 L135.4,149.1 L135.6,148.5 L135.7,147.9 L135.8,147.3 L135.9,146.7 L136.0,146.1 L136.2,145.5 L136.3,145.0 L136.4,144.4 L136.5,143.8 L136.7,143.2 L136.8,142.6 L136.9,142.0 L137.1,141.5 L137.2,140.9 L137.4,140.3 L137.5,139.7 L137.7,139.1 L137.9,138.6 L138.0,138.0 L138.2,137.4 L138.4,136.8 L138.6,136.3 L138.8,135.7 L139.0,135.1 L139.2,134.6 L139.4,134.0 L139.8,133.5 L140.3,133.4 L140.8,133.7 L141.2,134.2 L141.6,134.7 L141.9,135.2 L142.1,135.7 L142.4,136.3 L142.7,136.8 L142.9,137.4 L143.1,137.9 L143.3,138.5 L143.5,139.1 L143.6,139.7 L143.8,140.2 L143.9,140.8 L144.0,141.4 L144.2,142.0 L144.3,142.6 L144.4,143.2 L144.5,143.8 L144.6,144.4 L144.7,144.9 L144.8,145.5 L144.9,146.1 L145.0,146.7 L145.1,147.3 L145.2,147.9 L145.3,148.5 L145.4,149.1 L145.5,149.7 L145.6,150.3 L145.7,150.9 L145.8,151.5 L145.9,152.1 L146.0,152.6 L146.1,153.2 L146.1,153.8 L146.2,154.4 L146.3,155.0 L146.4,155.6 L146.5,156.2 L146.6,156.8 L146.7,157.4 L146.8,158.0 L146.9,158.6 L146.9,159.2 L147.0,159.8 L147.1,160.4 L147.2,161.0 L147.3,161.5 L147.4,162.1 L147.5,162.7 L147.5,163.3 L147.6,163.9 L147.7,164.5 L147.8,165.1 L147.9,165.7 L148.0,166.3 L148.0,166.9 L148.1,167.5 L148.2,168.1 L148.3,168.7 L148.4,169.3 L148.4,169.9 L148.5,170.5 L148.6,171.1 L148.7,171.7 L148.7,172.2 L148.8,172.8 L148.9,173.4 L149.0,174.0 L149.0,174.6 L149.1,175.2 L149.2,175.8 L149.3,176.4 L149.3,177.0 L149.4,177.6 L149.5,178.2 L149.6,178.8 L149.6,179.4 L149.7,180.0 L149.8,180.6 L149.9,181.2 L149.9,181.8 L150.0,182.4 L150.1,183.0 L150.1,183.6 L150.2,184.2 L150.3,184.8 L150.4,185.3 L150.4,185.9 L150.5,186.5 L150.6,187.1 L150.6,187.7 L150.7,188.3 L150.8,188.9 L150.8,189.5 L150.9,190.1 L151.0,190.7 L151.1,191.3 L151.1,191.9 L151.2,192.5 L151.3,193.1 L151.3,193.7 L151.4,194.3 L151.5,194.9 L151.5,195.5 L151.6,196.1 L151.7,196.7 L151.7,197.3 L151.8,197.9 L151.9,198.5 L151.9,199.1 L152.0,199.7 L152.1,200.2 L152.1,200.8 L152.2,201.4 L152.3,202.0 L152.3,202.6 L152.4,203.2 L152.5,203.8 L152.5,204.4 L152.6,205.0 L152.7,205.6 L152.7,206.2 L152.8,206.8 L152.8,207.4 L152.9,208.0 L153.0,208.6 L153.0,209.2 L153.1,209.8 L153.2,210.4 L153.2,211.0 L153.3,211.6 L153.4,212.2 L153.4,212.8 L153.5,213.4 L153.6,214.0 L153.6,214.6 L153.7,215.2 L153.8,215.8 L153.8,216.4 L153.9,217.0 L154.0,217.5 L154.0,218.1 L154.1,218.7 L154.1,219.3 L154.2,219.9 L154.3,220.5 L154.3,221.1 L154.4,221.7 L154.5,222.3 L154.5,222.9 L154.6,223.5 L154.7,224.1 L154.7,224.7 L154.8,225.3 L154.9,225.9 L154.9,226.5 L155.0,227.1 L155.1,227.7 L155.1,228.3 L155.2,228.9 L155.3,229.5 L155.3,230.1 L155.4,230.7 L155.5,231.3 L155.5,231.9 L155.6,232.5 L155.7,233.1 L155.7,233.6 L155.8,234.2 L155.9,234.8 L155.9,235.4 L156.0,236.0 L156.1,236.6 L156.2,237.2 L156.2,237.8 L156.3,238.4 L156.4,239.0 L156.4,239.6 L156.5,240.2 L156.6,240.8 L156.6,241.4 L156.7,242.0 L156.8,242.6 L156.8,243.2 L156.9,243.8 L157.0,244.4 L157.1,245.0 L157.1,245.6 L157.2,246.2 L157.3,246.8 L157.3,247.4 L157.4,248.0 L157.5,248.5 L157.6,249.1 L157.6,249.7 L157.7,250.3 L157.8,250.9 L157.8,251.5 L157.9,252.1 L158.0,252.7 L158.1,253.3 L158.1,253.9 L158.2,254.5 L158.3,255.1 L158.3,255.7 L158.4,256.3 L158.5,256.9 L158.6,257.5 L158.6,258.1 L158.7,258.7 L158.8,259.3 L158.9,259.9 L158.9,260.5 L159.0,261.1 L159.1,261.6 L159.2,262.2 L159.2,262.8 L159.3,263.4 L159.4,264.0 L159.5,264.6 L159.5,265.2 L159.6,265.8 L159.7,266.4 L159.8,267.0 L159.8,267.6 L159.9,268.2 L160.0,268.8 L160.1,269.4 L160.2,270.0 L160.2,270.6 L160.3,271.2 L160.4,271.8 L160.5,272.4 L160.5,273.0 L160.6,273.6 L160.7,274.1 L160.8,274.7 L160.9,275.3 L160.9,275.9 L161.0,276.5 L161.1,277.1 L161.2,277.7 L161.3,278.3 L161.3,278.9 L161.4,279.5 L161.5,280.1 L161.6,280.7 L161.7,281.3 L161.7,281.9 L161.8,282.5 L161.9,283.1 L162.0,283.7 L162.1,284.3 L162.1,284.8 L162.2,285.4 L162.3,286.0 L162.4,286.6 L162.5,287.2 L162.5,287.8 L162.6,288.4 L162.7,289.0 L162.8,289.6 L162.9,290.2 L163.0,290.8 L163.0,291.4 L163.1,292.0 L163.2,292.6 L163.3,293.2 L163.4,293.8 L163.5,294.4 L163.6,294.9 L163.6,295.5 L163.7,296.1 L163.8,296.7 L163.9,297.3 L164.0,297.9 L164.1,298.5 L164.2,299.1 L164.2,299.7 L164.3,300.3 L164.4,300.9 L164.5,301.5 L164.6,302.1 L164.7,302.7 L164.8,303.3 L164.9,303.9 L164.9,304.4 L165.0,305.0 L165.1,305.6 L165.2,306.2 L165.3,306.8 L165.4,307.4 L165.5,308.0 L165.6,308.6 L165.7,309.2 L165.8,309.8 L165.8,310.4 L165.9,311.0 L166.0,311.6 L166.1,312.2 L166.2,312.8 L166.3,313.3 L166.4,313.9 L166.5,314.5 L166.6,315.1 L166.7,315.7 L166.8,316.3 L166.9,316.9 L166.9,317.5 L167.0,318.1 L167.1,318.7 L167.2,319.3 L167.3,319.9 L167.4,320.5 L167.5,321.1 L167.6,321.6 L167.7,322.2 L167.8,322.8 L167.9,323.4 L168.0,324.0 L168.1,324.6 L168.2,325.2 L168.3,325.8 L168.4,326.4 L168.5,327.0 L168.6,327.6 L168.7,328.2 L168.8,328.7 L168.9,329.3 L169.0,329.9 L169.1,330.5 L169.2,331.1 L169.3,331.7 L169.4,332.3 L169.5,332.9 L169.6,333.5 L169.7,334.1 L169.8,334.7 L169.9,335.3 L170.0,335.9 L170.1,336.4 L170.2,337.0 L170.3,337.6 L170.4,338.2 L170.5,338.8 L170.6,339.4 L170.7,340.0 L170.8,340.6 L170.9,341.2 L171.0,341.8 L171.1,342.4 L171.2,342.9 L171.3,343.5 L171.4,344.1 L171.5,344.7 L171.6,345.3 L171.7,345.9 L171.8,346.5 L171.9,347.1 L172.0,347.7 L172.1,348.3 L172.2,348.9 L172.4,349.4 L172.5,350.0 L172.6,350.6 L172.7,351.2 L172.8,351.8 L172.9,352.4 L173.0,353.0 L173.1,353.6 L173.2,354.2 L173.3,354.8 L173.5,355.3 L173.6,355.9 L173.7,356.5 L173.8,357.1 L173.9,357.7 L174.0,358.3 L174.1,358.9 L174.2,359.5 L174.4,360.1 L174.5,360.6 L174.6,361.2 L174.7,361.8 L174.8,362.4 L175.0,363.0 L175.1,363.6 L175.2,364.2 L175.3,364.8 L175.4,365.3 L175.6,365.9 L175.7,366.5 L175.8,367.1 L175.9,367.7 L176.1,368.3 L176.2,368.9 L176.3,369.5 L176.4,370.0 L176.6,370.6 L176.7,371.2 L176.8,371.8 L177.0,372.4 L177.1,373.0 L177.2,373.6 L177.4,374.1 L177.5,374.7 L177.6,375.3 L177.8,375.9 L177.9,376.5 L178.0,377.1 L178.2,377.6 L178.3,378.2 L178.5,378.8 L178.6,379.4 L178.7,380.0 L178.9,380.6 L179.0,381.1 L179.2,381.7 L179.3,382.3 L179.5,382.9 L179.6,383.5 L179.8,384.0 L179.9,384.6 L180.1,385.2 L180.2,385.8 L180.4,386.4 L180.5,387.0 L180.7,387.5 L180.8,388.1 L181.0,388.7 L181.1,389.3 L181.3,389.8 L181.5,390.4 L181.6,391.0 L181.8,391.6 L182.0,392.2 L182.1,392.7 L182.3,393.3 L182.5,393.9 L182.6,394.5 L182.8,395.0 L183.0,395.6 L183.1,396.2 L183.3,396.8 L183.5,397.3 L183.7,397.9 L183.8,398.5 L184.0,399.1 L184.2,399.6 L184.4,400.2 L184.5,400.8 L184.7,401.3 L184.9,401.9 L185.1,402.5 L185.3,403.1 L185.5,403.6 L185.7,404.2 L185.9,404.8 L186.0,405.3 L186.2,405.9 L186.4,406.5 L186.6,407.0 L186.8,407.6 L187.0,408.2 L187.2,408.7 L187.4,409.3 L187.6,409.9 L187.8,410.4 L188.0,411.0 L188.2,411.6 L188.4,412.1 L188.7,412.7 L188.9,413.2 L189.1,413.8 L189.3,414.4 L189.5,414.9 L189.8,415.5 L190.0,416.0 L190.2,416.6 L190.5,417.1 L190.7,417.7 L190.9,418.2 L191.2,418.8 L191.4,419.3 L191.7,419.9 L191.9,420.4 L192.2,421.0 L192.5,421.5 L192.7,422.0 L193.0,422.6 L193.3,423.1 L193.6,423.6 L193.9,424.1 L194.2,424.7 L194.5,425.2 L194.8,425.7 L195.1,426.2 L195.4,426.7 L195.7,427.2 L196.0,427.7 L196.4,428.2 L196.7,428.7 L197.1,429.2 L197.4,429.7 L197.8,430.2 L198.2,430.7 L198.5,431.1 L198.9,431.6 L199.3,432.0 L199.7,432.5 L200.1,432.9 L200.5,433.4 L200.9,433.8 L201.4,434.2 L201.8,434.6 L202.2,435.0 L202.7,435.4 L203.1,435.8 L203.6,436.2 L204.1,436.6 L204.6,436.9 L205.0,437.3 L205.5,437.6 L206.0,438.0 L206.5,438.3 L207.1,438.6 L207.6,438.9 L208.1,439.2 L208.6,439.5 L209.2,439.7 L209.7,440.0 L210.3,440.2 L210.8,440.5 L211.4,440.7 L211.9,440.9 L212.5,441.1 L213.1,441.3 L213.6,441.5 L214.2,441.6 L214.8,441.8 L215.4,441.9 L216.0,442.1 L216.5,442.2 L217.1,442.3 L217.7,442.4 L218.3,442.5 L218.9,442.6 L219.5,442.7 L220.1,442.7 L220.7,442.8 L221.3,442.8 L221.9,442.9 L222.5,442.9 L223.1,442.9 L223.7,442.9 L224.3,442.8 L224.9,442.8 L225.5,442.7 L226.1,442.7 L226.7,442.6 L227.3,442.5 L227.9,442.4 L228.5,442.3 L229.0,442.2 L229.6,442.0 L230.2,441.8 L230.8,441.7 L231.3,441.5 L231.9,441.2 L232.5,441.0 L233.0,440.8 L233.6,440.5 L234.1,440.3 L234.6,440.0 L235.2,439.7 L235.7,439.4 L236.2,439.1 L236.7,438.8 L237.2,438.5 L237.7,438.1 L238.2,437.8 L238.7,437.4 L239.1,437.0 L239.6,436.7 L240.1,436.3 L240.5,435.9 L241.0,435.5 L241.4,435.1 L241.9,434.7 L242.3,434.3 L242.7,433.8 L243.1,433.4 L243.5,433.0 L244.0,432.5 L244.4,432.1 L244.8,431.7 L245.2,431.2 L245.5,430.7 L245.9,430.3 L246.3,429.8 L246.7,429.4 L247.1,428.9 L247.4,428.4 L247.8,427.9 L248.2,427.5 L248.5,427.0 L248.9,426.5 L249.2,426.0 L249.6,425.5 L249.9,425.0 L250.3,424.5 L250.6,424.0 L250.9,423.5 L251.3,423.0 L251.6,422.5 L251.9,422.0 L252.2,421.5 L252.6,421.0 L252.9,420.5 L253.2,420.0 L253.5,419.5 L253.8,419.0 L254.1,418.5 L254.4,417.9 L254.7,417.4 L255.0,416.9 L255.3,416.4 L255.6,415.9 L255.9,415.3 L256.2,414.8 L256.5,414.3 L256.8,413.8 L257.1,413.2 L257.3,412.7 L257.6,412.2 L257.9,411.6 L258.2,411.1 L258.4,410.6 L258.7,410.0 L259.0,409.5 L259.2,409.0 L259.5,408.4 L259.8,407.9 L260.0,407.3 L260.3,406.8 L260.5,406.2 L260.8,405.7 L261.0,405.1 L261.3,404.6 L261.5,404.0 L261.7,403.5 L262.0,402.9 L262.2,402.4 L262.4,401.8 L262.7,401.3 L262.9,400.7 L263.1,400.2 L263.3,399.6 L263.6,399.1 L263.8,398.5 L264.0,397.9 L264.2,397.4 L264.4,396.8 L264.6,396.3 L264.8,395.7 L265.1,395.1 L265.3,394.6 L265.5,394.0 L265.7,393.4 L265.9,392.9 L266.1,392.3 L266.3,391.7 L266.5,391.2 L266.7,390.6 L266.8,390.0 L267.0,389.5 L267.2,388.9 L267.4,388.3 L267.6,387.8 L267.8,387.2 L268.0,386.6 L268.1,386.0 L268.3,385.5 L268.5,384.9 L268.7,384.3 L268.8,383.7 L269.0,383.2 L269.2,382.6 L269.4,382.0 L269.5,381.4 L269.7,380.9 L269.9,380.3 L270.0,379.7 L270.2,379.1 L270.4,378.6 L270.5,378.0 L270.7,377.4 L270.8,376.8 L271.0,376.3 L271.1,375.7 L271.3,375.1 L271.5,374.5 L271.6,373.9 L271.8,373.4 L271.9,372.8 L272.1,372.2 L272.2,371.6 L272.4,371.0 L272.5,370.5 L272.7,369.9 L272.8,369.3 L273.0,368.7 L273.1,368.1 L273.3,367.5 L273.4,367.0 L273.5,366.4 L273.7,365.8 L273.8,365.2 L274.0,364.6 L274.1,364.0 L274.3,363.5 L274.4,362.9 L274.5,362.3 L274.7,361.7 L274.8,361.1 L275.0,360.5 L275.1,360.0 L275.2,359.4 L275.4,358.8 L275.5,358.2 L275.7,357.6 L275.8,357.0 L275.9,356.5 L276.1,355.9 L276.2,355.3 L276.3,354.7 L276.5,354.1 L276.6,353.5 L276.7,353.0 L276.9,352.4 L277.0,351.8 L277.2,351.2 L277.3,350.6 L277.4,350.0 L277.6,349.4 L277.7,348.9 L277.8,348.3 L278.0,347.7 L278.1,347.1 L278.2,346.5 L278.4,345.9 L278.5,345.4 L278.6,344.8 L278.8,344.2 L278.9,343.6 L279.0,343.0 L279.1,342.4 L279.3,341.8 L279.4,341.3 L279.5,340.7 L279.7,340.1 L279.8,339.5 L279.9,338.9 L280.1,338.3 L280.2,337.7 L280.3,337.2 L280.4,336.6 L280.6,336.0 L280.7,335.4 L280.8,334.8 L281.0,334.2 L281.1,333.6 L281.2,333.0 L281.3,332.5 L281.5,331.9 L281.6,331.3 L281.7,330.7 L281.8,330.1 L282.0,329.5 L282.1,328.9 L282.2,328.4 L282.3,327.8 L282.5,327.2 L282.6,326.6 L282.7,326.0 L282.8,325.4 L283.0,324.8 L283.1,324.2 L283.2,323.7 L283.3,323.1 L283.5,322.5 L283.6,321.9 L283.7,321.3 L283.8,320.7 L284.0,320.1 L284.1,319.5 L284.2,319.0 L284.3,318.4 L284.4,317.8 L284.6,317.2 L284.7,316.6 L284.8,316.0 L284.9,315.4 L285.0,314.8 L285.2,314.3 L285.3,313.7 L285.4,313.1 L285.5,312.5 L285.7,311.9 L285.8,311.3 L285.9,310.7 L286.0,310.1 L286.1,309.6 L286.2,309.0 L286.4,308.4 L286.5,307.8 L286.6,307.2 L286.7,306.6 L286.8,306.0 L287.0,305.4 L287.1,304.9 L287.2,304.3 L287.3,303.7 L287.4,303.1 L287.5,302.5 L287.7,301.9 L287.8,301.3 L287.9,300.7 L288.0,300.1 L288.1,299.6 L288.2,299.0 L288.4,298.4 L288.5,297.8 L288.6,297.2 L288.7,296.6 L288.8,296.0 L288.9,295.4 L289.1,294.8 L289.2,294.3 L289.3,293.7 L289.4,293.1 L289.5,292.5 L289.6,291.9 L289.8,291.3 L289.9,290.7 L290.0,290.1 L290.1,289.5 L290.2,289.0 L290.3,288.4 L290.4,287.8 L290.6,287.2 L290.7,286.6 L290.8,286.0 L290.9,285.4 L291.0,284.8 L291.1,284.2 L291.3,283.7 L291.4,283.1 L291.5,282.5 L291.6,281.9 L291.7,281.3 L291.8,280.7 L292.0,280.1 L292.1,279.5 L292.2,279.0 L292.3,278.4 L292.4,277.8 L292.5,277.2 L292.7,276.6 L292.8,276.0 L292.9,275.4 L293.0,274.8 L293.1,274.2 L293.2,273.7 L293.4,273.1 L293.5,272.5 L293.6,271.9 L293.7,271.3 L293.8,270.7 L294.0,270.1 L294.1,269.5 L294.2,269.0 L294.3,268.4 L294.4,267.8 L294.6,267.2 L294.7,266.6 L294.8,266.0 L294.9,265.4 L295.0,264.8 L295.2,264.3 L295.3,263.7 L295.4,263.1 L295.5,262.5 L295.7,261.9 L295.8,261.3 L295.9,260.7 L296.0,260.1 L296.2,259.6 L296.3,259.0 L296.4,258.4 L296.5,257.8 L296.7,257.2 L296.8,256.6 L296.9,256.0 L297.1,255.5 L297.2,254.9 L297.3,254.3 L297.4,253.7 L297.6,253.1 L297.7,252.5 L297.8,251.9 L298.0,251.4 L298.1,250.8 L298.2,250.2 L298.4,249.6 L298.5,249.0 L298.6,248.4 L298.8,247.8 L298.9,247.3 L299.0,246.7 L299.2,246.1 L299.3,245.5 L299.4,244.9 L299.6,244.3 L299.7,243.8 L299.9,243.2 L300.0,242.6 L300.1,242.0 L300.3,241.4 L300.4,240.8 L300.6,240.3 L300.7,239.7 L300.9,239.1 L301.0,238.5 L301.1,237.9 L301.3,237.3 L301.4,236.8 L301.6,236.2 L301.7,235.6 L301.9,235.0 L302.0,234.4 L302.2,233.9 L302.3,233.3 L302.5,232.7 L302.6,232.1 L302.8,231.5 L302.9,231.0 L303.1,230.4 L303.3,229.8 L303.4,229.2 L303.6,228.6 L303.7,228.1 L303.9,227.5 L304.1,226.9 L304.3,226.3 L304.4,225.8 L304.6,225.2 L304.8,224.6 L305.0,224.0 L305.1,223.5 L305.3,222.9 L305.5,222.3 L305.7,221.8 L305.9,221.2 L306.1,220.6 L306.3,220.1 L306.5,219.5 L306.7,218.9 L306.9,218.4 L307.2,217.8 L307.4,217.3 L307.6,216.7 L307.8,216.1 L308.1,215.6 L308.3,215.0 L308.5,214.5 L308.8,213.9 L309.0,213.4 L309.3,212.8 L309.5,212.3 L309.8,211.8 L310.1,211.2 L310.3,210.7 L310.6,210.2 L310.9,209.7 L311.2,209.1 L311.6,208.7 L312.0,208.2 L312.4,207.7 L312.8,207.3 L313.2,206.9 L313.7,206.5 L314.2,206.2 L314.7,205.9 L315.3,205.7 L315.9,205.7 L316.5,205.8 L317.0,206.1 L317.5,206.4 L318.0,206.8 L318.4,207.2 L318.9,207.6 L319.3,208.0 L319.7,208.5 L320.0,209.0 L320.4,209.4 L320.8,209.9 L321.1,210.4 L321.4,210.9 L321.8,211.4 L322.1,211.9 L322.4,212.5 L322.6,213.0 L322.9,213.5 L323.2,214.1 L323.4,214.6 L323.7,215.2 L323.9,215.7 L324.1,216.3 L324.3,216.8 L324.5,217.4 L324.7,218.0 L324.9,218.5 L325.1,219.1 L325.3,219.7 L325.5,220.2 L325.7,220.8 L325.9,221.4 L326.1,221.9 L326.3,222.5 L326.5,223.1 L326.7,223.6 L326.8,224.2 L327.0,224.8 L327.2,225.4 L327.4,225.9 L327.5,226.5 L327.7,227.1 L327.9,227.7 L328.0,228.2 L328.2,228.8 L328.4,229.4 L328.5,230.0 L328.7,230.5 L328.8,231.1 L329.0,231.7 L329.2,232.3 L329.3,232.9 L329.5,233.4 L329.6,234.0 L329.8,234.6 L329.9,235.2 L330.1,235.8 L330.2,236.4 L330.4,236.9 L330.5,237.5 L330.6,238.1 L330.8,238.7 L330.9,239.3 L331.1,239.9 L331.2,240.4 L331.3,241.0 L331.5,241.6 L331.6,242.2 L331.7,242.8 L331.9,243.4 L332.0,243.9 L332.1,244.5 L332.2,245.1 L332.4,245.7 L332.5,246.3 L332.6,246.9 L332.7,247.5 L332.9,248.1 L333.0,248.6 L333.1,249.2 L333.2,249.8 L333.3,250.4 L333.5,251.0 L333.6,251.6 L333.7,252.2 L333.8,252.8 L333.9,253.4 L334.0,253.9 L334.1,254.5 L334.3,255.1 L334.4,255.7 L334.5,256.3 L334.6,256.9 L334.7,257.5 L334.8,258.1 L334.9,258.7 L335.0,259.2 L335.1,259.8 L335.2,260.4 L335.4,261.0 L335.5,261.6 L335.6,262.2 L335.7,262.8 L335.8,263.4 L335.9,264.0 L336.0,264.6 L336.1,265.2 L336.2,265.7 L336.3,266.3 L336.4,266.9 L336.5,267.5 L336.6,268.1 L336.7,268.7 L336.8,269.3 L336.9,269.9 L337.0,270.5 L337.1,271.1 L337.2,271.7 L337.3,272.3 L337.4,272.8 L337.5,273.4 L337.6,274.0 L337.7,274.6 L337.8,275.2 L337.9,275.8 L338.0,276.4 L338.1,277.0 L338.2,277.6 L338.2,278.2 L338.3,278.8 L338.4,279.4 L338.5,280.0 L338.6,280.5 L338.7,281.1 L338.8,281.7 L338.9,282.3 L339.0,282.9 L339.1,283.5 L339.2,284.1 L339.3,284.7 L339.3,285.3 L339.4,285.9 L339.5,286.5 L339.6,287.1 L339.7,287.7 L339.8,288.3 L339.9,288.9 L340.0,289.4 L340.0,290.0 L340.1,290.6 L340.2,291.2 L340.3,291.8 L340.4,292.4 L340.5,293.0 L340.6,293.6 L340.7,294.2 L340.7,294.8 L340.8,295.4 L340.9,296.0 L341.0,296.6 L341.1,297.2 L341.2,297.8 L341.2,298.4 L341.3,298.9 L341.4,299.5 L341.5,300.1 L341.6,300.7 L341.7,301.3 L341.7,301.9 L341.8,302.5 L341.9,303.1 L342.0,303.7 L342.1,304.3 L342.2,304.9 L342.2,305.5 L342.3,306.1 L342.4,306.7 L342.5,307.3 L342.6,307.9 L342.6,308.5 L342.7,309.1 L342.8,309.6 L342.9,310.2 L343.0,310.8 L343.0,311.4 L343.1,312.0 L343.2,312.6 L343.3,313.2 L343.4,313.8 L343.4,314.4 L343.5,315.0 L343.6,315.6 L343.7,316.2 L343.8,316.8 L343.9,317.4 L343.9,318.0 L344.0,318.6 L344.1,319.2 L344.2,319.8 L344.3,320.3 L344.3,320.9 L344.4,321.5 L344.5,322.1 L344.6,322.7 L344.7,323.3 L344.7,323.9 L344.8,324.5 L344.9,325.1 L345.0,325.7 L345.1,326.3 L345.1,326.9 L345.2,327.5 L345.3,328.1 L345.4,328.7 L345.5,329.3 L345.6,329.9 L345.6,330.5 L345.7,331.0 L345.8,331.6 L345.9,332.2 L346.0,332.8 L346.0,333.4 L346.1,334.0 L346.2,334.6 L346.3,335.2 L346.4,335.8 L346.5,336.4 L346.5,337.0 L346.6,337.6 L346.7,338.2 L346.8,338.8 L346.9,339.4 L347.0,340.0 L347.0,340.6 L347.1,341.2 L347.2,341.7 L347.3,342.3 L347.4,342.9 L347.5,343.5 L347.6,344.1 L347.6,344.7 L347.7,345.3 L347.8,345.9 L347.9,346.5 L348.0,347.1 L348.1,347.7 L348.2,348.3 L348.3,348.9 L348.3,349.5 L348.4,350.1 L348.5,350.6 L348.6,351.2 L348.7,351.8 L348.8,352.4 L348.9,353.0 L349.0,353.6 L349.1,354.2 L349.1,354.8 L349.2,355.4 L349.3,356.0 L349.4,356.6 L349.5,357.2 L349.6,357.8 L349.7,358.4 L349.8,359.0 L349.9,359.5 L350.0,360.1 L350.1,360.7 L350.1,361.3 L350.2,361.9 L350.3,362.5 L350.4,363.1 L350.5,363.7 L350.6,364.3 L350.7,364.9 L350.8,365.5 L350.9,366.1 L351.0,366.7 L351.1,367.3 L351.2,367.8 L351.2,368.4 L351.3,369.0 L351.4,369.6 L351.5,370.2 L351.6,370.8 L351.7,371.4 L351.8,372.0 L351.9,372.6 L352.0,373.2 L352.1,373.8 L352.1,374.4 L352.2,375.0 L352.3,375.6 L352.4,376.2 L352.5,376.7 L352.6,377.3 L352.7,377.9 L352.8,378.5 L352.8,379.1 L352.9,379.7 L353.0,380.3 L353.1,380.9 L353.2,381.5 L353.3,382.1 L353.4,382.7 L353.4,383.3 L353.5,383.9 L353.6,384.5 L353.7,385.1 L353.8,385.7 L353.9,386.2 L353.9,386.8 L354.0,387.4 L354.1,388.0 L354.2,388.6 L354.3,389.2 L354.4,389.8 L354.4,390.4 L354.5,391.0 L354.6,391.6 L354.7,392.2 L354.8,392.8 L354.8,393.4 L354.9,394.0 L355.0,394.6 L355.1,395.2 L355.2,395.8 L355.2,396.4 L355.3,397.0 L355.4,397.5 L355.5,398.1 L355.6,398.7 L355.7,399.3 L355.7,399.9 L355.8,400.5 L355.9,401.1 L356.0,401.7 L356.1,402.3 L356.2,402.9 L356.3,403.5 L356.3,404.1 L356.4,404.7 L356.5,405.3 L356.6,405.9 L356.7,406.4 L356.8,407.0 L356.9,407.6 L357.0,408.2 L357.1,408.8 L357.2,409.4 L357.3,410.0 L357.4,410.6 L357.5,411.2 L357.6,411.8 L357.7,412.4 L357.8,413.0 L357.9,413.5 L358.0,414.1 L358.2,414.7 L358.3,415.3 L358.4,415.9 L358.5,416.5 L358.6,417.1 L358.8,417.7 L358.9,418.2 L359.0,418.8 L359.1,419.4 L359.3,420.0 L359.4,420.6 L359.5,421.2 L359.7,421.8 L359.8,422.3 L360.0,422.9 L360.1,423.5 L360.3,424.1 L360.4,424.7 L360.6,425.3 L360.7,425.8 L360.9,426.4 L361.0,427.0 L361.2,427.6 L361.4,428.1 L361.5,428.7 L361.7,429.3 L361.9,429.9 L362.0,430.4 L362.2,431.0 L362.4,431.6 L362.6,432.2 L362.8,432.7 L362.9,433.3 L363.1,433.9 L363.3,434.5 L363.5,435.0 L363.7,435.6 L363.9,436.2 L364.0,436.7 L364.2,437.3 L364.4,437.9 L364.6,438.4 L364.8,439.0 L365.0,439.6 L365.2,440.1 L365.4,440.7 L365.6,441.3 L365.8,441.9 L366.0,442.4 L366.2,443.0 L366.3,443.6 L366.5,444.1 L366.7,444.7 L366.9,445.3 L367.1,445.8 L367.3,446.4 L367.6,446.9 L367.8,447.5 L368.0,448.1 L368.2,448.6 L368.4,449.2 L368.6,449.7 L368.9,450.3 L369.1,450.9 L369.3,451.4 L369.6,452.0 L369.8,452.5 L370.1,453.0 L370.3,453.6 L370.6,454.1 L370.9,454.7 L371.1,455.2 L371.4,455.7 L371.7,456.3 L372.0,456.8 L372.3,457.3 L372.5,457.8 L372.8,458.4 L373.2,458.9 L373.5,459.4 L373.8,459.9 L374.1,460.4 L374.4,460.9 L374.8,461.4 L375.1,461.9 L375.4,462.4 L375.8,462.9 L376.2,463.4 L376.5,463.8 L376.9,464.3 L377.3,464.8 L377.6,465.2 L378.0,465.7 L378.4,466.2 L378.8,466.6 L379.2,467.0 L379.7,467.5 L380.1,467.9 L380.5,468.3 L380.9,468.7 L381.4,469.1 L381.8,469.5 L382.3,469.9 L382.7,470.3 L383.2,470.7 L383.7,471.1 L384.2,471.4 L384.7,471.8 L385.1,472.1 L385.6,472.4 L386.1,472.8 L386.7,473.1 L387.2,473.4 L387.7,473.7 L388.2,474.0 L388.7,474.3 L389.3,474.6 L389.8,474.8 L390.3,475.1 L390.9,475.3 L391.4,475.6 L392.0,475.8 L392.5,476.1 L393.1,476.3 L393.6,476.5 L394.2,476.8 L394.8,477.0 L395.3,477.2 L395.9,477.4 L396.5,477.6 L397.0,477.8 L397.6,478.0 L398.2,478.1 L398.7,478.3 L399.3,478.5 L399.9,478.6 L400.5,478.8 L401.1,479.0 L401.6,479.1 L402.2,479.3 L402.8,479.4 L403.4,479.6 L404.0,479.7 L404.6,479.8 L405.1,479.9 L405.7,480.1 L406.3,480.2 L406.9,480.3 L407.5,480.4 L408.1,480.5 L408.7,480.6 L409.3,480.7 L409.9,480.8 L410.4,480.9 L411.0,481.0 L411.6,481.1 L412.2,481.2 L412.8,481.3 L413.4,481.4 L414.0,481.5 L414.6,481.5 L415.2,481.6 L415.8,481.6 L416.4,481.7 L417.0,481.8 L417.6,481.9 L418.2,482.0 L418.8,482.0 L419.4,482.1 L420.0,482.1 L420.6,482.2 L421.2,482.3 L421.8,482.4 L422.4,482.4 L423.0,482.4 L423.6,482.4 L424.2,482.4 L424.8,482.4 L425.4,482.5 L426.0,482.6 L426.6,482.6 L427.2,482.6 L427.8,482.6 L428.4,482.6 L429.0,482.6 L429.6,482.5 L430.2,482.4 L430.8,482.5 L431.4,482.6 L432.0,482.5 L432.6,482.6 L433.2,482.8 L433.8,482.9 L434.4,482.9 L435.0,483.0 L435.6,482.9 L436.2,482.9 L436.8,482.9 L437.4,482.8 L438.0,482.7 L438.6,482.7 L439.2,482.9 L439.8,482.9 L440.4,482.8 L441.0,482.8 L441.6,482.8 L442.2,482.7 L442.8,482.7 L443.4,482.8 L444.0,482.8 L444.6,482.7 L445.2,482.5 L445.8,482.4 L446.4,482.7 L447.0,482.8 L447.6,482.6 L448.2,482.6 L448.8,482.8 L449.4,482.8 L450.0,482.7 L450.6,482.7 L451.2,482.7 L451.8,482.8 L452.4,482.9 L453.0,482.7 L453.6,482.6 L454.2,482.7 L454.8,482.8 L455.4,482.8 L456.0,482.9 L456.6,482.9 L457.2,482.8 L457.8,482.8 L458.4,482.7 L459.0,482.6 L459.6,482.5 L460.2,482.4 L460.8,482.4 L461.4,482.7 L462.0,482.7 L462.6,482.7 L463.2,482.7 L463.8,482.8 L464.4,482.8 L465.0,482.8 L465.6,482.9 L466.2,482.8 L466.8,482.6 L467.4,482.5 L468.0,482.5 L468.6,482.6 L469.2,482.6 L469.8,482.6 L470.4,482.5 L471.0,482.2 L471.6,482.2 L472.2,482.4 L472.8,482.5 L473.4,482.6 L474.0,482.6 L474.6,482.6 L475.2,482.7 L475.8,482.8 L476.4,482.7 L477.0,482.6 L477.6,482.6 L478.2,482.7 L478.8,482.7 L479.4,482.7 L480.0,482.7 L480.6,482.6 L481.2,482.6 L481.8,482.7 L482.4,482.7 L483.0,482.8 L483.6,482.8 L484.2,482.6 L484.8,482.5 L485.4,482.6 L486.0,482.6 L486.6,482.5 L487.2,482.6 L487.8,482.7 L488.4,482.8 L489.0,482.8 L489.6,482.7 L490.2,482.5 L490.8,482.6 L491.4,482.7 L492.0,482.8 L492.6,482.8 L493.2,482.9 L493.8,482.8 L494.4,482.6 L495.0,482.6 L495.6,482.9 L496.2,482.9 L496.8,482.8 L497.4,482.9 L498.0,482.8 L498.6,482.7 L499.2,482.7 L499.8,482.8 L500.4,482.9 L501.0,483.0 L501.6,483.0 L502.2,482.9 L502.8,482.7 L503.4,482.6 L504.0,482.8 L504.6,483.0 L505.2,483.1 L505.8,482.9 L506.4,482.7 L507.0,482.7 L507.6,482.8 L508.2,482.9 L508.8,483.0 L509.4,483.0 L510.0,482.8 L510.6,482.8 L511.2,483.0 L511.8,483.1 L512.4,482.9 L513.0,482.8 L513.6,483.0 L514.2,483.1 L514.8,482.9 L515.4,482.9 L516.0,483.1 L516.6,483.0 L517.2,482.9 L517.8,483.0 L518.4,483.1 L519.0,483.2 L519.6,483.1 L520.2,483.0 L520.8,482.9 L521.4,483.1 L522.0,483.2 L522.6,483.1 L523.1,483.1 L523.7,483.2 L524.3,483.2 L524.9,483.1 L525.5,483.0 L526.1,483.2 L526.7,483.2 L527.3,483.2 L527.9,483.2 L528.5,483.2 L529.1,483.1 L529.7,483.2 L530.3,483.2 L530.9,483.2 L531.5,483.3 L532.1,483.2 L532.7,483.1 L533.3,483.3 L533.9,483.4 L534.5,483.4 L535.1,483.2 L535.7,483.2 L536.3,483.4 L536.9,483.5 L537.5,483.4 L538.1,483.4 L538.7,483.4 L539.3,483.5 L539.9,483.6 L540.5,483.6 L541.1,483.5 L541.7,483.3 L542.3,483.5 L542.9,483.5 L543.5,483.3 L544.1,483.0 L544.7,483.2 L545.3,483.5 L545.9,483.5 L546.5,483.6 L547.1,483.7 L547.7,483.6 L548.3,483.5 L548.9,483.6 L549.5,483.7 L550.1,483.5 L550.7,483.3 L551.3,483.4 L551.9,483.7 L552.5,483.6 L553.1,483.4 L553.7,483.6 L554.3,483.8 L554.9,483.9 L555.5,483.9 L556.1,483.8 L556.7,483.6 L557.3,483.4 L557.9,483.7 L558.5,483.9 L559.1,483.8 L559.7,483.7 L560.3,483.6 L560.9,483.5 L561.5,483.7 L562.1,483.8 L562.7,483.7 L563.3,483.7 L563.9,483.9 L564.5,484.0 L565.1,483.8 L565.7,484.0 L566.3,484.2 L566.9,484.0 L567.5,483.8 L568.1,483.9 L568.7,483.9 L569.3,483.9 L569.9,483.9 L570.5,483.8 L571.1,483.8 L571.7,483.9 L572.3,484.2 L572.9,484.3 L573.5,484.2 L574.1,484.3 L574.7,484.4 L575.3,484.3 L575.9,484.1 L576.5,484.1 L577.1,484.3 L577.7,484.3 L578.3,484.4 L578.9,484.5 L579.5,484.5 L580.1,484.4 L580.7,484.3 L581.3,484.2 L581.9,484.3 L582.5,484.6 L583.1,484.8 L583.7,484.7 L584.3,484.4 L584.9,484.6 L585.5,485.0 L586.1,484.8 L586.7,484.4 L587.3,484.5 L587.9,484.6 L588.5,484.5 L589.1,484.4 L589.7,484.3 L590.3,484.3 L590.9,484.3 L591.5,484.3 L592.1,484.4 L592.7,484.6 L593.3,484.9 L593.9,485.1 L594.5,484.9 L595.1,484.9 L595.7,485.0 L596.3,485.3 L596.9,485.2 L597.5,484.5 L598.1,484.3 L598.7,484.8 L599.3,485.4 L599.9,485.6 L600.5,485.5 L601.1,485.5 L601.7,485.7 L602.3,486.1 L602.9,486.2 L603.4,486.0 L604.0,486.5 L604.6,486.7 L605.2,486.5 L605.8,486.6 L606.4,486.7 L607.0,486.9 L607.6,487.1 L608.2,487.0 L608.7,487.0 L609.3,487.1 L609.9,487.1 L610.5,487.3 L611.1,487.5 L611.7,487.5 L612.3,487.6 L612.9,487.8 L613.5,487.6 L614.1,487.6 L614.7,487.8 L615.3,488.2 L615.9,488.3 L616.5,488.1 L617.1,488.0 L617.7,487.9 L618.3,488.0 L618.9,488.2 L619.5,488.1 L620.1,488.0 L620.7,487.8 L621.3,487.6 L621.9,487.5 L622.5,487.5 L623.1,487.7 L623.7,488.0 L624.3,487.6 L624.9,487.3 L625.5,487.7 L626.1,487.7 L626.7,487.7 L627.3,487.6 L627.9,487.2 L628.5,487.1 L629.1,487.1 L629.7,486.9 L630.3,486.9 L630.9,487.1 L631.5,487.3 L632.1,487.3 L632.7,487.2 L633.3,486.9 L633.9,486.5 L634.5,486.6 L635.1,486.9 L635.7,487.1 L636.3,487.2 L636.9,487.1 L637.5,487.1 L638.1,487.0 L638.7,486.9 L639.3,486.8 L639.9,486.8 L640.5,486.9 L641.1,486.9 L641.6,486.8 L642.2,486.9 L642.8,486.9 L643.4,486.5 L644.0,486.3 L644.6,486.4 L645.2,486.6 L645.8,486.8 L646.4,486.8 L647.0,486.8 L647.6,486.8 L648.2,486.7 L648.8,486.8 L649.4,486.8 L650.0,487.1 L650.6,487.5 L651.2,487.8 L651.8,487.7 L652.4,487.3 L653.0,487.2 L653.6,487.6 L654.2,487.7 L654.8,487.6 L655.4,487.7 L656.0,487.4 L656.6,487.0 L657.2,487.6 L657.8,488.2 L658.4,488.3 L659.0,488.2 L659.6,487.9 L660.2,487.3 L660.8,487.1 L661.4,487.5 L662.0,487.8 L662.6,487.8 L663.2,488.0 L663.8,488.5 L664.4,488.5 L665.0,488.0 L665.6,488.0 L666.2,488.3 L666.8,488.2 L667.4,488.3 L668.0,489.1 L668.6,489.2 L669.2,488.7 L669.8,488.4 L670.4,488.6 L671.0,488.7 L671.6,489.0 L672.2,489.2 L672.8,489.2 L673.4,489.2 L674.0,489.1 L674.5,489.0 L675.1,488.9 L675.7,489.3 L676.3,489.8 L676.9,490.1 L677.5,489.6 L678.1,489.3 L678.7,489.7 L679.3,489.7 L679.9,489.5 L680.5,489.9 L681.1,490.5 L681.7,490.6 L682.3,490.2 L682.9,490.2 L683.5,490.2 L684.1,490.1 L684.7,490.1 L685.3,490.3 L685.9,490.6 L686.5,490.6 L687.1,490.4 L687.7,490.6 L688.3,491.0 L688.9,491.1 L689.5,490.9 L690.1,490.8 L690.7,490.9 L691.3,490.9 L691.8,490.9 L692.4,490.9 L693.0,490.9 L693.6,491.0 L694.2,491.1 L694.8,491.1 L695.4,491.1 L696.0,491.3 L696.6,491.8 L697.2,491.9 L697.8,491.7 L698.4,491.7 L699.0,491.9 L699.6,492.0 L700.2,492.0 L700.8,492.1 L701.4,492.3 L702.0,492.4 L702.6,492.2 L703.2,492.2 L703.8,492.4 L704.4,492.6 L705.0,492.8 L705.6,493.1 L706.2,493.3 L706.8,493.2 L707.4,492.9 L707.9,492.8 L708.5,493.0 L709.1,493.3" fill="none" stroke="#ff00ff" stroke-width="3.6" stroke-linejoin="round" stroke-linecap="round"/>
<path d="M284.0,490.4h0M290.6,490.4h0M297.0,490.4h0M303.6,490.4h0M310.0,490.4h0M312.4,490.4h0M319.4,490.4h0M325.6,490.4h0M332.4,490.4h0M339.0,490.4h0M345.5,490.0h0M351.7,489.3h0M357.9,487.6h0M363.7,485.8h0M369.2,482.7h0M374.7,478.7h0M379.6,474.1h0M383.7,468.6h0M387.9,462.5h0M391.6,456.3h0M392.8,453.8h0M396.7,446.9h0M399.4,440.0h0M402.2,433.2h0M405.1,427.1h0M407.8,420.6h0M410.4,414.0h0M413.0,407.6h0M415.6,401.1h0M418.2,394.5h0M420.8,388.0h0M423.7,381.4h0M426.6,375.0h0M429.5,368.4h0M433.0,361.6h0M437.4,355.0h0M442.4,349.0h0M448.4,344.6h0M454.8,343.6h0M461.2,345.6h0M467.2,350.0h0M470.4,354.4h0M475.0,361.0h0M479.0,367.4h0M483.0,374.0h0M486.6,380.6h0M490.2,387.4h0M493.8,394.0h0M497.4,400.4h0M500.8,407.0h0M504.4,413.6h0M508.0,420.2h0M511.7,426.7h0M515.9,433.3h0M520.0,439.2h0M524.7,445.6h0M529.6,451.8h0M534.8,458.0h0M540.6,463.8h0M547.1,469.3h0M553.5,473.4h0M560.2,477.3h0M566.8,480.3h0M571.8,481.8h0M578.0,484.1h0M584.9,485.5h0M591.5,486.6h0M598.0,487.8h0M604.0,488.6h0M611.0,489.4h0M618.0,490.0h0M624.0,490.4h0M630.5,490.6h0M637.2,490.8h0M643.8,490.8h0M650.4,490.8h0M657.0,490.8h0M663.6,490.8h0M670.2,490.8h0M676.8,490.7h0M683.3,490.6h0M689.7,490.6h0M696.2,490.6h0M702.6,490.5h0M709.0,490.5h0" fill="none" stroke="#00b800" stroke-width="3.2" stroke-linecap="round"/>
</g>
<g font-family="'Liberation Sans', Arial, sans-serif" font-weight="bold" fill="#000" stroke="#000" stroke-width="0.25" stroke-linejoin="round">
<g font-size="22px" stroke-width="0.15">
<text x="91.5" y="501.4" text-anchor="end">0</text>
<text x="91.5" y="429.5" text-anchor="end">5</text>
<text x="91.5" y="357.6" text-anchor="end">10</text>
<text x="91.5" y="285.6" text-anchor="end">15</text>
<text x="91.5" y="213.6" text-anchor="end">20</text>
<text x="91.5" y="141.7" text-anchor="end">25</text>
<text x="91.5" y="69.7" text-anchor="end">30</text>
<text x="724.5" y="496.9" text-anchor="start">0</text>
<text x="724.5" y="399.0" text-anchor="start">10</text>
<text x="724.5" y="301.2" text-anchor="start">20</text>
<text x="724.5" y="203.3" text-anchor="start">30</text>
<text x="724.5" y="105.4" text-anchor="start">40</text>
<text x="218.1" y="528.3" text-anchor="middle">400</text>
<text x="376.6" y="528.3" text-anchor="middle">600</text>
<text x="535.1" y="528.3" text-anchor="middle">800</text>
<text x="693.6" y="528.3" text-anchor="middle">1000</text>
</g>
<g font-size="26.5px">
<text x="408.2" y="571.3" font-size="26px" text-anchor="middle">Wavelength <tspan font-size="29.3px" stroke-width="0.1" dx="-0.5" dy="0.5">(</tspan><tspan dx="-0.4" dy="-0.5">nm</tspan><tspan font-size="29.3px" stroke-width="0.1" dx="-0.4" dy="0.5">)</tspan></text>
<text transform="translate(31.3,458.4) rotate(-90)" text-anchor="start">Molar Extinction <tspan font-size="29.3px" stroke-width="0.1" dx="0.1" dy="0.5">(</tspan><tspan dx="-0.4" dy="-0.5">10</tspan><tspan font-size="15px" stroke-width="0.15" letter-spacing="-0.7" dx="0.5" dy="-14">3</tspan><tspan dx="1.0" dy="14"> M</tspan><tspan font-size="15px" stroke-width="0.15" letter-spacing="-0.7" dx="1.3" dy="-14">-1</tspan><tspan dx="1.3" dy="14"> cm</tspan><tspan font-size="15px" stroke-width="0.15" letter-spacing="-0.7" dx="1.5" dy="-14">-1</tspan><tspan font-size="29.3px" stroke-width="0.1" dx="1.4" dy="14.5">)</tspan></text>
<text transform="translate(773.8,120.2) rotate(90)" font-size="26.7px" text-anchor="start">Calculated Absorptivity</text>
</g>
</g>
</g>
</svg>
</body></html>
